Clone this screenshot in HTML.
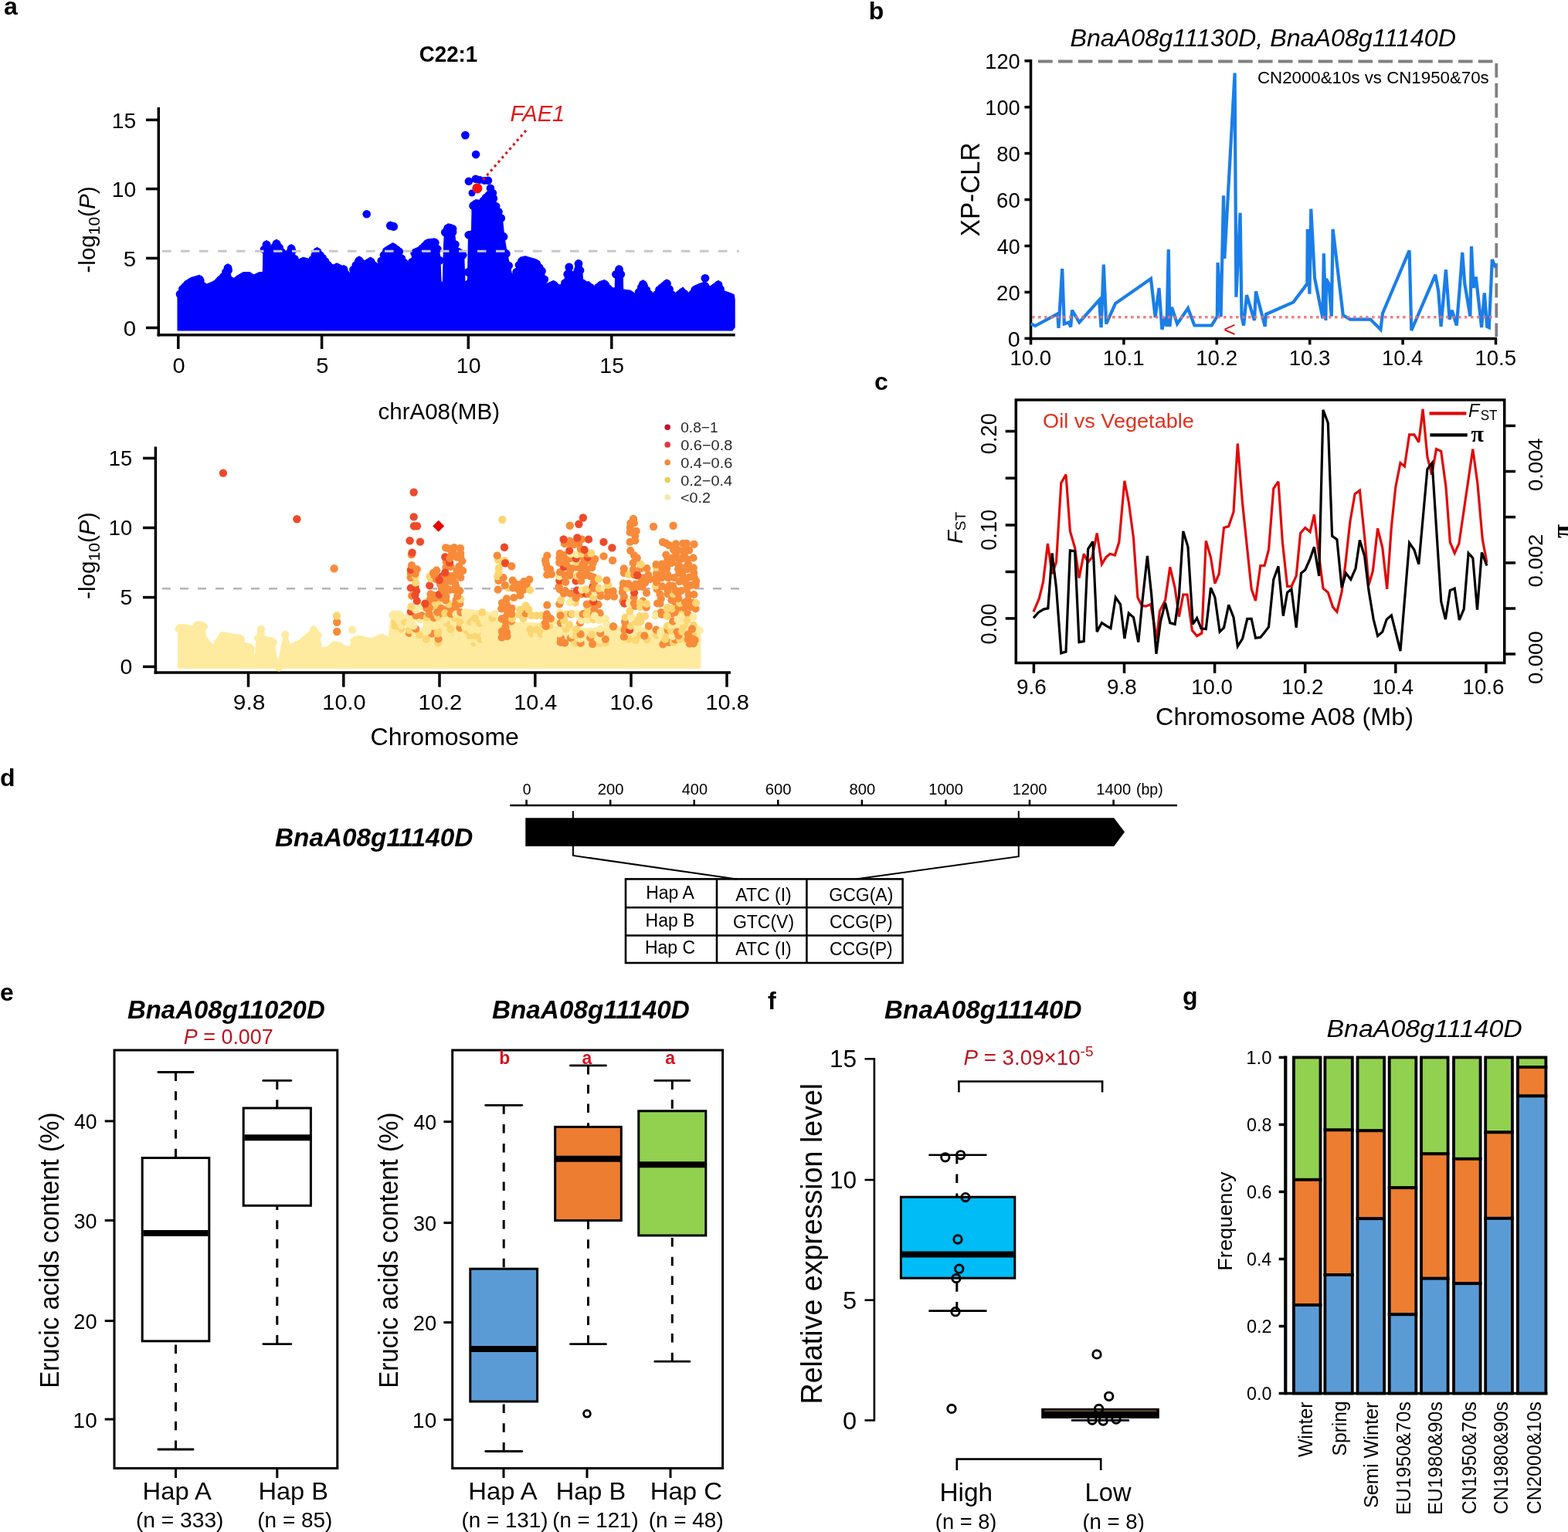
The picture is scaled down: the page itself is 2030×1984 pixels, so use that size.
<!DOCTYPE html>
<html><head><meta charset="utf-8"><title>Figure</title>
<style>
html,body{margin:0;padding:0;background:#fff;}
body{width:2030px;height:1984px;overflow:hidden;}
svg{display:block;font-family:"Liberation Sans", Arial, sans-serif;}
</style></head><body>
<svg width="2030" height="1984" viewBox="0 0 2030 1984">
<rect x="0" y="0" width="2030" height="1984" fill="#fff"/>
<text x="5.0" y="19.0" font-size="32" text-anchor="start" font-weight="bold">a</text>
<text x="1124.8" y="25.3" font-size="32" text-anchor="start" font-weight="bold">b</text>
<text x="1132.0" y="505.0" font-size="32" text-anchor="start" font-weight="bold">c</text>
<text x="0.0" y="1018.0" font-size="32" text-anchor="start" font-weight="bold">d</text>
<text x="0.0" y="1296.0" font-size="32" text-anchor="start" font-weight="bold">e</text>
<text x="994.0" y="1307.0" font-size="32" text-anchor="start" font-weight="bold">f</text>
<text x="1531.0" y="1301.0" font-size="32" text-anchor="start" font-weight="bold">g</text>
<line x1="205.3" y1="139.0" x2="205.3" y2="435.4" stroke="#000" stroke-width="3.5"/>
<line x1="203.6" y1="433.7" x2="951.7" y2="433.7" stroke="#000" stroke-width="3.5"/>
<line x1="189.0" y1="424.5" x2="205.3" y2="424.5" stroke="#000" stroke-width="3.5"/>
<text x="159.82" y="434.70" font-size="27.5" textLength="16.39" lengthAdjust="spacingAndGlyphs">0</text>
<line x1="189.0" y1="334.4" x2="205.3" y2="334.4" stroke="#000" stroke-width="3.5"/>
<text x="159.82" y="344.60" font-size="27.5" textLength="16.39" lengthAdjust="spacingAndGlyphs">5</text>
<line x1="189.0" y1="244.6" x2="205.3" y2="244.6" stroke="#000" stroke-width="3.5"/>
<text x="144.78" y="254.80" font-size="27.5" textLength="31.41" lengthAdjust="spacingAndGlyphs">10</text>
<line x1="189.0" y1="155.3" x2="205.3" y2="155.3" stroke="#000" stroke-width="3.5"/>
<text x="144.78" y="165.50" font-size="27.5" textLength="31.41" lengthAdjust="spacingAndGlyphs">15</text>
<line x1="230.8" y1="433.7" x2="230.8" y2="452.0" stroke="#000" stroke-width="3.5"/>
<text x="223.54" y="483.10" font-size="28" textLength="16.16" lengthAdjust="spacingAndGlyphs">0</text>
<line x1="416.6" y1="433.7" x2="416.6" y2="452.0" stroke="#000" stroke-width="3.5"/>
<text x="409.34" y="483.10" font-size="28" textLength="16.16" lengthAdjust="spacingAndGlyphs">5</text>
<line x1="606.3" y1="433.7" x2="606.3" y2="452.0" stroke="#000" stroke-width="3.5"/>
<text x="590.82" y="483.10" font-size="28" textLength="31.64" lengthAdjust="spacingAndGlyphs">10</text>
<line x1="791.8" y1="433.7" x2="791.8" y2="452.0" stroke="#000" stroke-width="3.5"/>
<text x="776.32" y="483.10" font-size="28" textLength="31.64" lengthAdjust="spacingAndGlyphs">15</text>
<text x="542.79" y="80.30" font-size="29" font-weight="bold" textLength="75.47" lengthAdjust="spacingAndGlyphs">C22:1</text>
<text x="0" y="0" font-size="29.5" text-anchor="middle" textLength="112" lengthAdjust="spacingAndGlyphs" transform="translate(123 297.5) rotate(-90)">-log<tspan font-size="21" dy="6">10</tspan><tspan dy="-6">(</tspan><tspan font-style="italic">P</tspan>)</text>
<polygon points="230.2,427.7 230.2,385.0 230.8,382.2 234.7,370.6 242.4,362.9 247.5,359.7 258.4,356.5 264.2,368.1 268.0,368.1 274.4,365.5 279.6,362.9 284.7,357.8 290.0,352.0 295.0,341.8 298.8,357.8 301.4,364.2 306.5,357.8 315.5,352.7 323.2,352.7 328.3,356.5 336.0,352.7 340.5,352.7 341.2,319.3 345.0,311.6 350.2,323.2 357.9,310.3 361.7,315.5 370.7,332.1 377.1,316.7 382.2,332.1 384.8,337.3 392.5,333.4 401.5,336.0 405.3,329.6 410.5,320.6 418.2,329.6 425.9,339.8 431.0,343.7 436.1,341.1 443.8,345.0 445.1,343.7 451.6,359.1 458.0,342.4 465.0,332.1 470.8,338.6 479.8,333.4 484.9,339.8 490.0,342.4 493.9,332.1 499.0,320.6 508.7,314.8 517.0,320.6 520.9,332.1 527.3,339.8 532.4,339.8 535.0,323.2 542.7,320.0 552.9,310.3 563.2,309.0 567.1,319.3 569.6,332.1 570.9,365.5 573.5,365.5 574.8,316.7 576.0,296.0 580.0,290.0 585.0,291.1 588.9,306.5 590.2,319.3 600.4,325.7 601.7,365.5 605.6,362.9 606.8,300.0 610.7,299.0 611.4,262.0 615.9,258.8 621.9,259.8 625.9,254.8 629.9,249.8 637.8,244.8 639.8,257.8 643.8,264.8 647.8,274.8 649.8,279.7 652.8,307.7 655.8,325.6 658.5,338.0 664.6,365.5 668.4,347.5 673.6,333.4 680.0,332.0 694.4,336.2 703.0,347.7 707.3,367.9 716.7,363.6 723.1,369.3 730.3,367.9 733.0,350.0 740.0,350.0 743.2,365.0 745.0,345.0 753.0,345.0 754.7,365.0 762.7,365.0 769.1,372.2 776.0,365.0 782.8,362.8 790.7,372.2 796.4,373.6 797.0,350.0 806.0,350.0 806.5,375.0 816.6,376.5 822.3,382.2 832.4,362.8 839.6,375.0 846.7,383.7 852.5,370.7 863.3,362.1 872.6,382.2 884.1,372.2 892.7,383.7 898.5,370.7 905.0,368.0 912.9,365.0 918.6,372.2 930.1,363.6 935.9,376.5 946.0,380.0 950.2,382.0 951.0,388.0 951.0,424.0 948.0,427.7" fill="#0000ff" stroke="#0000ff" stroke-width="1.5" stroke-linejoin="round"/>
<circle cx="233.0" cy="380.9" r="5.3" fill="#0000ff"/>
<circle cx="236.3" cy="374.2" r="5.3" fill="#0000ff"/>
<circle cx="239.6" cy="370.9" r="5.3" fill="#0000ff"/>
<circle cx="242.9" cy="367.8" r="5.3" fill="#0000ff"/>
<circle cx="246.2" cy="365.7" r="5.3" fill="#0000ff"/>
<circle cx="249.5" cy="364.3" r="5.3" fill="#0000ff"/>
<circle cx="252.8" cy="363.3" r="5.3" fill="#0000ff"/>
<circle cx="256.1" cy="362.4" r="5.3" fill="#0000ff"/>
<circle cx="259.4" cy="363.7" r="5.3" fill="#0000ff"/>
<circle cx="262.7" cy="370.3" r="5.3" fill="#0000ff"/>
<circle cx="266.0" cy="373.3" r="5.3" fill="#0000ff"/>
<circle cx="269.3" cy="372.8" r="5.3" fill="#0000ff"/>
<circle cx="272.6" cy="371.4" r="5.3" fill="#0000ff"/>
<circle cx="275.9" cy="369.9" r="5.3" fill="#0000ff"/>
<circle cx="279.2" cy="368.3" r="5.3" fill="#0000ff"/>
<circle cx="282.5" cy="365.2" r="5.3" fill="#0000ff"/>
<circle cx="285.8" cy="361.8" r="5.3" fill="#0000ff"/>
<circle cx="289.1" cy="358.2" r="5.3" fill="#0000ff"/>
<circle cx="292.4" cy="352.3" r="5.3" fill="#0000ff"/>
<circle cx="295.7" cy="349.9" r="5.3" fill="#0000ff"/>
<circle cx="299.0" cy="363.5" r="5.3" fill="#0000ff"/>
<circle cx="302.3" cy="368.3" r="5.3" fill="#0000ff"/>
<circle cx="305.6" cy="364.1" r="5.3" fill="#0000ff"/>
<circle cx="308.9" cy="361.6" r="5.3" fill="#0000ff"/>
<circle cx="312.2" cy="359.8" r="5.3" fill="#0000ff"/>
<circle cx="315.5" cy="357.9" r="5.3" fill="#0000ff"/>
<circle cx="318.8" cy="357.9" r="5.3" fill="#0000ff"/>
<circle cx="322.1" cy="357.9" r="5.3" fill="#0000ff"/>
<circle cx="325.4" cy="359.5" r="5.3" fill="#0000ff"/>
<circle cx="328.7" cy="361.5" r="5.3" fill="#0000ff"/>
<circle cx="332.0" cy="359.9" r="5.3" fill="#0000ff"/>
<circle cx="335.3" cy="358.2" r="5.3" fill="#0000ff"/>
<circle cx="338.6" cy="357.9" r="5.3" fill="#0000ff"/>
<circle cx="341.9" cy="323.1" r="5.3" fill="#0000ff"/>
<circle cx="345.2" cy="317.2" r="5.3" fill="#0000ff"/>
<circle cx="348.5" cy="324.6" r="5.3" fill="#0000ff"/>
<circle cx="351.8" cy="325.7" r="5.3" fill="#0000ff"/>
<circle cx="355.1" cy="320.2" r="5.3" fill="#0000ff"/>
<circle cx="358.4" cy="316.2" r="5.3" fill="#0000ff"/>
<circle cx="361.7" cy="320.7" r="5.3" fill="#0000ff"/>
<circle cx="365.0" cy="326.8" r="5.3" fill="#0000ff"/>
<circle cx="368.3" cy="332.9" r="5.3" fill="#0000ff"/>
<circle cx="371.6" cy="335.1" r="5.3" fill="#0000ff"/>
<circle cx="374.9" cy="327.2" r="5.3" fill="#0000ff"/>
<circle cx="378.2" cy="325.2" r="5.3" fill="#0000ff"/>
<circle cx="381.5" cy="335.2" r="5.3" fill="#0000ff"/>
<circle cx="384.8" cy="342.5" r="5.3" fill="#0000ff"/>
<circle cx="388.1" cy="340.8" r="5.3" fill="#0000ff"/>
<circle cx="391.4" cy="339.2" r="5.3" fill="#0000ff"/>
<circle cx="394.7" cy="339.2" r="5.3" fill="#0000ff"/>
<circle cx="398.0" cy="340.2" r="5.3" fill="#0000ff"/>
<circle cx="401.3" cy="341.1" r="5.3" fill="#0000ff"/>
<circle cx="404.6" cy="336.0" r="5.3" fill="#0000ff"/>
<circle cx="407.9" cy="330.3" r="5.3" fill="#0000ff"/>
<circle cx="411.2" cy="326.6" r="5.3" fill="#0000ff"/>
<circle cx="414.5" cy="330.5" r="5.3" fill="#0000ff"/>
<circle cx="417.8" cy="334.3" r="5.3" fill="#0000ff"/>
<circle cx="421.1" cy="338.6" r="5.3" fill="#0000ff"/>
<circle cx="424.4" cy="343.0" r="5.3" fill="#0000ff"/>
<circle cx="427.7" cy="346.4" r="5.3" fill="#0000ff"/>
<circle cx="431.0" cy="348.9" r="5.3" fill="#0000ff"/>
<circle cx="434.3" cy="347.2" r="5.3" fill="#0000ff"/>
<circle cx="437.6" cy="347.1" r="5.3" fill="#0000ff"/>
<circle cx="440.9" cy="348.7" r="5.3" fill="#0000ff"/>
<circle cx="444.2" cy="349.8" r="5.3" fill="#0000ff"/>
<circle cx="447.5" cy="354.6" r="5.3" fill="#0000ff"/>
<circle cx="450.8" cy="362.4" r="5.3" fill="#0000ff"/>
<circle cx="454.1" cy="357.8" r="5.3" fill="#0000ff"/>
<circle cx="457.4" cy="349.2" r="5.3" fill="#0000ff"/>
<circle cx="460.7" cy="343.6" r="5.3" fill="#0000ff"/>
<circle cx="464.0" cy="338.8" r="5.3" fill="#0000ff"/>
<circle cx="467.3" cy="339.9" r="5.3" fill="#0000ff"/>
<circle cx="470.6" cy="343.6" r="5.3" fill="#0000ff"/>
<circle cx="473.9" cy="342.0" r="5.3" fill="#0000ff"/>
<circle cx="477.2" cy="340.1" r="5.3" fill="#0000ff"/>
<circle cx="480.5" cy="339.5" r="5.3" fill="#0000ff"/>
<circle cx="483.8" cy="343.6" r="5.3" fill="#0000ff"/>
<circle cx="487.1" cy="346.1" r="5.3" fill="#0000ff"/>
<circle cx="490.4" cy="346.5" r="5.3" fill="#0000ff"/>
<circle cx="493.7" cy="337.8" r="5.3" fill="#0000ff"/>
<circle cx="497.0" cy="330.3" r="5.3" fill="#0000ff"/>
<circle cx="500.3" cy="325.0" r="5.3" fill="#0000ff"/>
<circle cx="503.6" cy="323.0" r="5.3" fill="#0000ff"/>
<circle cx="506.9" cy="321.1" r="5.3" fill="#0000ff"/>
<circle cx="510.2" cy="321.0" r="5.3" fill="#0000ff"/>
<circle cx="513.5" cy="323.4" r="5.3" fill="#0000ff"/>
<circle cx="516.8" cy="325.7" r="5.3" fill="#0000ff"/>
<circle cx="520.1" cy="334.9" r="5.3" fill="#0000ff"/>
<circle cx="523.4" cy="340.3" r="5.3" fill="#0000ff"/>
<circle cx="526.7" cy="344.3" r="5.3" fill="#0000ff"/>
<circle cx="530.0" cy="345.0" r="5.3" fill="#0000ff"/>
<circle cx="533.3" cy="339.3" r="5.3" fill="#0000ff"/>
<circle cx="536.6" cy="327.7" r="5.3" fill="#0000ff"/>
<circle cx="539.9" cy="326.4" r="5.3" fill="#0000ff"/>
<circle cx="543.2" cy="324.7" r="5.3" fill="#0000ff"/>
<circle cx="546.5" cy="321.6" r="5.3" fill="#0000ff"/>
<circle cx="549.8" cy="318.4" r="5.3" fill="#0000ff"/>
<circle cx="553.1" cy="315.5" r="5.3" fill="#0000ff"/>
<circle cx="556.4" cy="315.1" r="5.3" fill="#0000ff"/>
<circle cx="559.7" cy="314.6" r="5.3" fill="#0000ff"/>
<circle cx="563.0" cy="314.2" r="5.3" fill="#0000ff"/>
<circle cx="566.3" cy="322.4" r="5.3" fill="#0000ff"/>
<circle cx="569.6" cy="337.3" r="5.3" fill="#0000ff"/>
<circle cx="572.9" cy="370.7" r="5.3" fill="#0000ff"/>
<circle cx="576.2" cy="300.9" r="5.3" fill="#0000ff"/>
<circle cx="579.5" cy="295.9" r="5.3" fill="#0000ff"/>
<circle cx="582.8" cy="295.8" r="5.3" fill="#0000ff"/>
<circle cx="586.1" cy="300.6" r="5.3" fill="#0000ff"/>
<circle cx="589.4" cy="316.6" r="5.3" fill="#0000ff"/>
<circle cx="592.7" cy="326.1" r="5.3" fill="#0000ff"/>
<circle cx="596.0" cy="328.1" r="5.3" fill="#0000ff"/>
<circle cx="599.3" cy="330.2" r="5.3" fill="#0000ff"/>
<circle cx="602.6" cy="370.1" r="5.3" fill="#0000ff"/>
<circle cx="605.9" cy="352.4" r="5.3" fill="#0000ff"/>
<circle cx="609.2" cy="304.6" r="5.3" fill="#0000ff"/>
<circle cx="612.5" cy="266.4" r="5.3" fill="#0000ff"/>
<circle cx="615.8" cy="264.1" r="5.3" fill="#0000ff"/>
<circle cx="619.1" cy="264.5" r="5.3" fill="#0000ff"/>
<circle cx="622.4" cy="264.4" r="5.3" fill="#0000ff"/>
<circle cx="625.7" cy="260.3" r="5.3" fill="#0000ff"/>
<circle cx="629.0" cy="256.1" r="5.3" fill="#0000ff"/>
<circle cx="632.3" cy="253.5" r="5.3" fill="#0000ff"/>
<circle cx="635.6" cy="251.4" r="5.3" fill="#0000ff"/>
<circle cx="638.9" cy="257.1" r="5.3" fill="#0000ff"/>
<circle cx="642.2" cy="267.2" r="5.3" fill="#0000ff"/>
<circle cx="645.5" cy="274.2" r="5.3" fill="#0000ff"/>
<circle cx="648.8" cy="282.4" r="5.3" fill="#0000ff"/>
<circle cx="652.1" cy="306.4" r="5.3" fill="#0000ff"/>
<circle cx="655.4" cy="328.4" r="5.3" fill="#0000ff"/>
<circle cx="658.7" cy="344.1" r="5.3" fill="#0000ff"/>
<circle cx="662.0" cy="359.0" r="5.3" fill="#0000ff"/>
<circle cx="665.3" cy="367.4" r="5.3" fill="#0000ff"/>
<circle cx="668.6" cy="352.2" r="5.3" fill="#0000ff"/>
<circle cx="671.9" cy="343.2" r="5.3" fill="#0000ff"/>
<circle cx="675.2" cy="338.3" r="5.3" fill="#0000ff"/>
<circle cx="678.5" cy="337.5" r="5.3" fill="#0000ff"/>
<circle cx="681.8" cy="337.7" r="5.3" fill="#0000ff"/>
<circle cx="685.1" cy="338.7" r="5.3" fill="#0000ff"/>
<circle cx="688.4" cy="339.6" r="5.3" fill="#0000ff"/>
<circle cx="691.7" cy="340.6" r="5.3" fill="#0000ff"/>
<circle cx="695.0" cy="342.2" r="5.3" fill="#0000ff"/>
<circle cx="698.3" cy="346.6" r="5.3" fill="#0000ff"/>
<circle cx="701.6" cy="351.0" r="5.3" fill="#0000ff"/>
<circle cx="704.9" cy="361.8" r="5.3" fill="#0000ff"/>
<circle cx="708.2" cy="372.7" r="5.3" fill="#0000ff"/>
<circle cx="711.5" cy="371.2" r="5.3" fill="#0000ff"/>
<circle cx="714.8" cy="369.7" r="5.3" fill="#0000ff"/>
<circle cx="718.1" cy="370.0" r="5.3" fill="#0000ff"/>
<circle cx="721.4" cy="373.0" r="5.3" fill="#0000ff"/>
<circle cx="724.7" cy="374.2" r="5.3" fill="#0000ff"/>
<circle cx="728.0" cy="373.5" r="5.3" fill="#0000ff"/>
<circle cx="731.3" cy="366.5" r="5.3" fill="#0000ff"/>
<circle cx="734.6" cy="355.2" r="5.3" fill="#0000ff"/>
<circle cx="737.9" cy="355.2" r="5.3" fill="#0000ff"/>
<circle cx="741.2" cy="360.8" r="5.3" fill="#0000ff"/>
<circle cx="744.5" cy="355.8" r="5.3" fill="#0000ff"/>
<circle cx="747.8" cy="350.2" r="5.3" fill="#0000ff"/>
<circle cx="751.1" cy="350.2" r="5.3" fill="#0000ff"/>
<circle cx="754.4" cy="366.7" r="5.3" fill="#0000ff"/>
<circle cx="757.7" cy="370.2" r="5.3" fill="#0000ff"/>
<circle cx="761.0" cy="370.2" r="5.3" fill="#0000ff"/>
<circle cx="764.3" cy="372.0" r="5.3" fill="#0000ff"/>
<circle cx="767.6" cy="375.7" r="5.3" fill="#0000ff"/>
<circle cx="770.9" cy="375.5" r="5.3" fill="#0000ff"/>
<circle cx="774.2" cy="372.1" r="5.3" fill="#0000ff"/>
<circle cx="777.5" cy="369.7" r="5.3" fill="#0000ff"/>
<circle cx="780.8" cy="368.6" r="5.3" fill="#0000ff"/>
<circle cx="784.1" cy="369.5" r="5.3" fill="#0000ff"/>
<circle cx="787.4" cy="373.5" r="5.3" fill="#0000ff"/>
<circle cx="790.7" cy="377.4" r="5.3" fill="#0000ff"/>
<circle cx="794.0" cy="378.2" r="5.3" fill="#0000ff"/>
<circle cx="797.3" cy="355.2" r="5.3" fill="#0000ff"/>
<circle cx="800.6" cy="355.2" r="5.3" fill="#0000ff"/>
<circle cx="803.9" cy="355.2" r="5.3" fill="#0000ff"/>
<circle cx="807.2" cy="380.3" r="5.3" fill="#0000ff"/>
<circle cx="810.5" cy="380.8" r="5.3" fill="#0000ff"/>
<circle cx="813.8" cy="381.3" r="5.3" fill="#0000ff"/>
<circle cx="817.1" cy="382.2" r="5.3" fill="#0000ff"/>
<circle cx="820.4" cy="385.5" r="5.3" fill="#0000ff"/>
<circle cx="823.7" cy="384.7" r="5.3" fill="#0000ff"/>
<circle cx="827.0" cy="378.4" r="5.3" fill="#0000ff"/>
<circle cx="830.3" cy="372.0" r="5.3" fill="#0000ff"/>
<circle cx="833.6" cy="370.0" r="5.3" fill="#0000ff"/>
<circle cx="836.9" cy="375.6" r="5.3" fill="#0000ff"/>
<circle cx="840.2" cy="380.9" r="5.3" fill="#0000ff"/>
<circle cx="843.5" cy="385.0" r="5.3" fill="#0000ff"/>
<circle cx="846.8" cy="388.7" r="5.3" fill="#0000ff"/>
<circle cx="850.1" cy="381.3" r="5.3" fill="#0000ff"/>
<circle cx="853.4" cy="375.2" r="5.3" fill="#0000ff"/>
<circle cx="856.7" cy="372.6" r="5.3" fill="#0000ff"/>
<circle cx="860.0" cy="369.9" r="5.3" fill="#0000ff"/>
<circle cx="863.3" cy="367.3" r="5.3" fill="#0000ff"/>
<circle cx="866.6" cy="374.4" r="5.3" fill="#0000ff"/>
<circle cx="869.9" cy="381.6" r="5.3" fill="#0000ff"/>
<circle cx="873.2" cy="386.9" r="5.3" fill="#0000ff"/>
<circle cx="876.5" cy="384.0" r="5.3" fill="#0000ff"/>
<circle cx="879.8" cy="381.1" r="5.3" fill="#0000ff"/>
<circle cx="883.1" cy="378.3" r="5.3" fill="#0000ff"/>
<circle cx="886.4" cy="380.5" r="5.3" fill="#0000ff"/>
<circle cx="889.7" cy="384.9" r="5.3" fill="#0000ff"/>
<circle cx="893.0" cy="388.2" r="5.3" fill="#0000ff"/>
<circle cx="896.3" cy="380.8" r="5.3" fill="#0000ff"/>
<circle cx="899.6" cy="375.4" r="5.3" fill="#0000ff"/>
<circle cx="902.9" cy="374.1" r="5.3" fill="#0000ff"/>
<circle cx="906.2" cy="372.7" r="5.3" fill="#0000ff"/>
<circle cx="909.5" cy="371.5" r="5.3" fill="#0000ff"/>
<circle cx="912.8" cy="370.2" r="5.3" fill="#0000ff"/>
<circle cx="916.1" cy="374.2" r="5.3" fill="#0000ff"/>
<circle cx="919.4" cy="376.8" r="5.3" fill="#0000ff"/>
<circle cx="922.7" cy="374.3" r="5.3" fill="#0000ff"/>
<circle cx="926.0" cy="371.9" r="5.3" fill="#0000ff"/>
<circle cx="929.3" cy="369.4" r="5.3" fill="#0000ff"/>
<circle cx="932.6" cy="374.4" r="5.3" fill="#0000ff"/>
<circle cx="935.9" cy="381.7" r="5.3" fill="#0000ff"/>
<circle cx="939.2" cy="382.8" r="5.3" fill="#0000ff"/>
<circle cx="942.5" cy="384.0" r="5.3" fill="#0000ff"/>
<circle cx="945.8" cy="385.1" r="5.3" fill="#0000ff"/>
<circle cx="258.4" cy="361.8" r="5.4" fill="#0000ff"/>
<circle cx="295.0" cy="347.1" r="5.4" fill="#0000ff"/>
<circle cx="345.0" cy="316.9" r="5.4" fill="#0000ff"/>
<circle cx="357.9" cy="315.6" r="5.4" fill="#0000ff"/>
<circle cx="377.1" cy="322.0" r="5.4" fill="#0000ff"/>
<circle cx="410.5" cy="325.9" r="5.4" fill="#0000ff"/>
<circle cx="465.0" cy="337.4" r="5.4" fill="#0000ff"/>
<circle cx="479.8" cy="338.7" r="5.4" fill="#0000ff"/>
<circle cx="508.7" cy="320.1" r="5.4" fill="#0000ff"/>
<circle cx="542.7" cy="325.3" r="5.4" fill="#0000ff"/>
<circle cx="552.9" cy="315.6" r="5.4" fill="#0000ff"/>
<circle cx="563.2" cy="314.3" r="5.4" fill="#0000ff"/>
<circle cx="580.0" cy="295.3" r="5.4" fill="#0000ff"/>
<circle cx="586.0" cy="296.3" r="5.4" fill="#0000ff"/>
<circle cx="606.8" cy="304.3" r="5.4" fill="#0000ff"/>
<circle cx="615.9" cy="264.1" r="5.4" fill="#0000ff"/>
<circle cx="625.9" cy="260.1" r="5.4" fill="#0000ff"/>
<circle cx="637.8" cy="250.1" r="5.4" fill="#0000ff"/>
<circle cx="736.8" cy="345.9" r="5.4" fill="#0000ff"/>
<circle cx="749.0" cy="341.5" r="5.4" fill="#0000ff"/>
<circle cx="801.5" cy="348.7" r="5.4" fill="#0000ff"/>
<circle cx="832.4" cy="368.1" r="5.4" fill="#0000ff"/>
<circle cx="863.3" cy="367.4" r="5.4" fill="#0000ff"/>
<circle cx="912.9" cy="360.3" r="5.4" fill="#0000ff"/>
<circle cx="930.1" cy="368.9" r="5.4" fill="#0000ff"/>
<circle cx="782.8" cy="368.1" r="5.4" fill="#0000ff"/>
<circle cx="716.7" cy="368.9" r="5.4" fill="#0000ff"/>
<circle cx="680.0" cy="337.3" r="5.4" fill="#0000ff"/>
<circle cx="694.4" cy="341.5" r="5.4" fill="#0000ff"/>
<circle cx="445.1" cy="349.0" r="5.4" fill="#0000ff"/>
<circle cx="436.1" cy="346.4" r="5.4" fill="#0000ff"/>
<circle cx="322.0" cy="358.3" r="5.4" fill="#0000ff"/>
<circle cx="315.0" cy="358.3" r="5.4" fill="#0000ff"/>
<circle cx="242.4" cy="368.2" r="5.4" fill="#0000ff"/>
<circle cx="284.7" cy="363.1" r="5.4" fill="#0000ff"/>
<circle cx="474.7" cy="277.2" r="5.3" fill="#0000ff"/>
<circle cx="505.5" cy="292.2" r="5.6" fill="#0000ff"/>
<circle cx="509.5" cy="293.4" r="5.6" fill="#0000ff"/>
<circle cx="602.4" cy="175.1" r="5.4" fill="#0000ff"/>
<circle cx="616.1" cy="200.1" r="5.3" fill="#0000ff"/>
<circle cx="606.9" cy="234.8" r="5.3" fill="#0000ff"/>
<circle cx="615.9" cy="231.8" r="5.3" fill="#0000ff"/>
<circle cx="621.0" cy="233.0" r="5" fill="#0000ff"/>
<circle cx="627.0" cy="234.0" r="5" fill="#0000ff"/>
<circle cx="631.9" cy="233.8" r="5.3" fill="#0000ff"/>
<circle cx="634.9" cy="243.8" r="5.3" fill="#0000ff"/>
<circle cx="633.0" cy="252.0" r="5" fill="#0000ff"/>
<circle cx="611.0" cy="250.0" r="4.5" fill="#0000ff"/>
<circle cx="617.9" cy="243.8" r="6.6" fill="#f01010"/>
<line x1="210.0" y1="325.3" x2="957.0" y2="325.3" stroke="#c8c8c8" stroke-width="3" stroke-dasharray="11.5 12.5"/>
<line x1="681.0" y1="169.0" x2="625.0" y2="233.3" stroke="#e01818" stroke-width="3.2" stroke-dasharray="3.2 4.2"/>
<text x="660.52" y="156.60" font-size="29" font-style="italic" fill="#e01818" textLength="70.81" lengthAdjust="spacingAndGlyphs">FAE1</text>
<line x1="201.4" y1="578.5" x2="201.4" y2="872.7" stroke="#000" stroke-width="3.5"/>
<line x1="199.7" y1="871.0" x2="946.0" y2="871.0" stroke="#000" stroke-width="3.5"/>
<line x1="185.0" y1="863.4" x2="201.4" y2="863.4" stroke="#000" stroke-width="3.5"/>
<text x="155.46" y="873.00" font-size="27.5" textLength="15.81" lengthAdjust="spacingAndGlyphs">0</text>
<line x1="185.0" y1="773.6" x2="201.4" y2="773.6" stroke="#000" stroke-width="3.5"/>
<text x="155.46" y="783.20" font-size="27.5" textLength="15.81" lengthAdjust="spacingAndGlyphs">5</text>
<line x1="185.0" y1="683.5" x2="201.4" y2="683.5" stroke="#000" stroke-width="3.5"/>
<text x="140.85" y="693.10" font-size="27.5" textLength="30.41" lengthAdjust="spacingAndGlyphs">10</text>
<line x1="185.0" y1="593.4" x2="201.4" y2="593.4" stroke="#000" stroke-width="3.5"/>
<text x="140.85" y="603.00" font-size="27.5" textLength="30.41" lengthAdjust="spacingAndGlyphs">15</text>
<text x="0" y="0" font-size="29.5" text-anchor="middle" textLength="112.5" lengthAdjust="spacingAndGlyphs" transform="translate(123 719.7) rotate(-90)">-log<tspan font-size="21" dy="6">10</tspan><tspan dy="-6">(</tspan><tspan font-style="italic">P</tspan>)</text>
<line x1="321.5" y1="871.0" x2="321.5" y2="889.7" stroke="#000" stroke-width="3.5"/>
<text x="301.80" y="919.30" font-size="28.5" textLength="41.65" lengthAdjust="spacingAndGlyphs">9.8</text>
<line x1="444.8" y1="871.0" x2="444.8" y2="889.7" stroke="#000" stroke-width="3.5"/>
<text x="417.33" y="919.30" font-size="28.5" textLength="56.37" lengthAdjust="spacingAndGlyphs">10.0</text>
<line x1="569.0" y1="871.0" x2="569.0" y2="889.7" stroke="#000" stroke-width="3.5"/>
<text x="541.52" y="919.30" font-size="28.5" textLength="56.68" lengthAdjust="spacingAndGlyphs">10.2</text>
<line x1="692.8" y1="871.0" x2="692.8" y2="889.7" stroke="#000" stroke-width="3.5"/>
<text x="665.34" y="919.30" font-size="28.5" textLength="56.06" lengthAdjust="spacingAndGlyphs">10.4</text>
<line x1="817.0" y1="871.0" x2="817.0" y2="889.7" stroke="#000" stroke-width="3.5"/>
<text x="789.52" y="919.30" font-size="28.5" textLength="56.52" lengthAdjust="spacingAndGlyphs">10.6</text>
<line x1="941.0" y1="871.0" x2="941.0" y2="889.7" stroke="#000" stroke-width="3.5"/>
<text x="913.53" y="919.30" font-size="28.5" textLength="56.37" lengthAdjust="spacingAndGlyphs">10.8</text>
<text x="489.47" y="543.20" font-size="29" textLength="157.54" lengthAdjust="spacingAndGlyphs">chrA08(MB)</text>
<text x="479.60" y="964.80" font-size="30.5" textLength="192.31" lengthAdjust="spacingAndGlyphs">Chromosome</text>
<polygon points="231.4,864.5 231.4,809.8 239.6,809.8 245.0,811.2 251.9,811.2 254.6,805.7 264.2,807.1 265.5,824.8 272.4,833.0 276.5,837.1 281.9,827.6 287.4,819.4 312.0,823.5 316.1,833.0 325.6,835.8 328.4,849.4 331.1,852.1 333.8,822.1 337.9,815.3 342.0,824.8 354.3,827.6 357.0,852.1 361.1,860.3 365.2,835.8 369.3,820.7 374.8,835.8 387.1,830.3 393.9,824.8 402.1,818.0 406.2,811.2 411.7,818.0 415.8,839.9 424.0,838.5 432.1,831.7 440.3,833.0 445.8,837.1 454.0,838.5 458.0,826.0 465.0,824.0 480.0,828.0 495.0,822.0 504.0,826.0 508.0,792.0 518.0,792.0 521.0,822.0 530.0,818.0 546.0,818.0 552.0,800.0 560.0,795.0 600.0,795.0 606.0,790.0 640.0,795.0 644.0,806.0 700.0,808.0 720.0,812.0 760.0,815.0 800.0,812.0 850.0,815.0 880.0,808.0 906.0,812.0 906.0,864.5" fill="#feeba0" stroke="#feeba0" stroke-width="3" stroke-linejoin="round"/>
<circle cx="231.4" cy="814.3" r="4.8" fill="#feeba0"/>
<circle cx="239.6" cy="814.3" r="4.8" fill="#feeba0"/>
<circle cx="239.6" cy="814.3" r="4.8" fill="#feeba0"/>
<circle cx="245.0" cy="815.7" r="4.8" fill="#feeba0"/>
<circle cx="245.0" cy="815.7" r="4.8" fill="#feeba0"/>
<circle cx="251.9" cy="815.7" r="4.8" fill="#feeba0"/>
<circle cx="251.9" cy="815.7" r="4.8" fill="#feeba0"/>
<circle cx="254.6" cy="810.2" r="4.8" fill="#feeba0"/>
<circle cx="254.6" cy="810.2" r="4.8" fill="#feeba0"/>
<circle cx="264.2" cy="811.6" r="4.8" fill="#feeba0"/>
<circle cx="265.5" cy="829.3" r="4.8" fill="#feeba0"/>
<circle cx="272.4" cy="837.5" r="4.8" fill="#feeba0"/>
<circle cx="272.4" cy="837.5" r="4.8" fill="#feeba0"/>
<circle cx="276.5" cy="841.6" r="4.8" fill="#feeba0"/>
<circle cx="276.5" cy="841.6" r="4.8" fill="#feeba0"/>
<circle cx="281.9" cy="832.1" r="4.8" fill="#feeba0"/>
<circle cx="281.9" cy="832.1" r="4.8" fill="#feeba0"/>
<circle cx="287.4" cy="823.9" r="4.8" fill="#feeba0"/>
<circle cx="287.4" cy="823.9" r="4.8" fill="#feeba0"/>
<circle cx="293.5" cy="824.9" r="4.8" fill="#feeba0"/>
<circle cx="299.7" cy="826.0" r="4.8" fill="#feeba0"/>
<circle cx="305.9" cy="827.0" r="4.8" fill="#feeba0"/>
<circle cx="312.0" cy="828.0" r="4.8" fill="#feeba0"/>
<circle cx="312.0" cy="828.0" r="4.8" fill="#feeba0"/>
<circle cx="316.1" cy="837.5" r="4.8" fill="#feeba0"/>
<circle cx="316.1" cy="837.5" r="4.8" fill="#feeba0"/>
<circle cx="325.6" cy="840.3" r="4.8" fill="#feeba0"/>
<circle cx="328.4" cy="853.9" r="4.8" fill="#feeba0"/>
<circle cx="331.1" cy="856.6" r="4.8" fill="#feeba0"/>
<circle cx="333.8" cy="826.6" r="4.8" fill="#feeba0"/>
<circle cx="337.9" cy="819.8" r="4.8" fill="#feeba0"/>
<circle cx="337.9" cy="819.8" r="4.8" fill="#feeba0"/>
<circle cx="342.0" cy="829.3" r="4.8" fill="#feeba0"/>
<circle cx="342.0" cy="829.3" r="4.8" fill="#feeba0"/>
<circle cx="348.1" cy="830.7" r="4.8" fill="#feeba0"/>
<circle cx="354.3" cy="832.1" r="4.8" fill="#feeba0"/>
<circle cx="357.0" cy="856.6" r="4.8" fill="#feeba0"/>
<circle cx="361.1" cy="864.8" r="4.8" fill="#feeba0"/>
<circle cx="374.8" cy="840.3" r="4.8" fill="#feeba0"/>
<circle cx="381.0" cy="837.5" r="4.8" fill="#feeba0"/>
<circle cx="387.1" cy="834.8" r="4.8" fill="#feeba0"/>
<circle cx="387.1" cy="834.8" r="4.8" fill="#feeba0"/>
<circle cx="393.9" cy="829.3" r="4.8" fill="#feeba0"/>
<circle cx="393.9" cy="829.3" r="4.8" fill="#feeba0"/>
<circle cx="402.1" cy="822.5" r="4.8" fill="#feeba0"/>
<circle cx="402.1" cy="822.5" r="4.8" fill="#feeba0"/>
<circle cx="406.2" cy="815.7" r="4.8" fill="#feeba0"/>
<circle cx="406.2" cy="815.7" r="4.8" fill="#feeba0"/>
<circle cx="411.7" cy="822.5" r="4.8" fill="#feeba0"/>
<circle cx="415.8" cy="844.4" r="4.8" fill="#feeba0"/>
<circle cx="424.0" cy="843.0" r="4.8" fill="#feeba0"/>
<circle cx="424.0" cy="843.0" r="4.8" fill="#feeba0"/>
<circle cx="432.1" cy="836.2" r="4.8" fill="#feeba0"/>
<circle cx="432.1" cy="836.2" r="4.8" fill="#feeba0"/>
<circle cx="440.3" cy="837.5" r="4.8" fill="#feeba0"/>
<circle cx="440.3" cy="837.5" r="4.8" fill="#feeba0"/>
<circle cx="445.8" cy="841.6" r="4.8" fill="#feeba0"/>
<circle cx="445.8" cy="841.6" r="4.8" fill="#feeba0"/>
<circle cx="454.0" cy="843.0" r="4.8" fill="#feeba0"/>
<circle cx="458.0" cy="830.5" r="4.8" fill="#feeba0"/>
<circle cx="465.0" cy="828.5" r="4.8" fill="#feeba0"/>
<circle cx="465.0" cy="828.5" r="4.8" fill="#feeba0"/>
<circle cx="470.0" cy="829.8" r="4.8" fill="#feeba0"/>
<circle cx="475.0" cy="831.2" r="4.8" fill="#feeba0"/>
<circle cx="480.0" cy="832.5" r="4.8" fill="#feeba0"/>
<circle cx="480.0" cy="832.5" r="4.8" fill="#feeba0"/>
<circle cx="485.0" cy="830.5" r="4.8" fill="#feeba0"/>
<circle cx="490.0" cy="828.5" r="4.8" fill="#feeba0"/>
<circle cx="495.0" cy="826.5" r="4.8" fill="#feeba0"/>
<circle cx="495.0" cy="826.5" r="4.8" fill="#feeba0"/>
<circle cx="504.0" cy="830.5" r="4.8" fill="#feeba0"/>
<circle cx="508.0" cy="796.5" r="4.8" fill="#feeba0"/>
<circle cx="513.0" cy="796.5" r="4.8" fill="#feeba0"/>
<circle cx="518.0" cy="796.5" r="4.8" fill="#feeba0"/>
<circle cx="521.0" cy="826.5" r="4.8" fill="#feeba0"/>
<circle cx="530.0" cy="822.5" r="4.8" fill="#feeba0"/>
<circle cx="530.0" cy="822.5" r="4.8" fill="#feeba0"/>
<circle cx="535.3" cy="822.5" r="4.8" fill="#feeba0"/>
<circle cx="540.7" cy="822.5" r="4.8" fill="#feeba0"/>
<circle cx="546.0" cy="822.5" r="4.8" fill="#feeba0"/>
<circle cx="552.0" cy="804.5" r="4.8" fill="#feeba0"/>
<circle cx="560.0" cy="799.5" r="4.8" fill="#feeba0"/>
<circle cx="560.0" cy="799.5" r="4.8" fill="#feeba0"/>
<circle cx="565.0" cy="799.5" r="4.8" fill="#feeba0"/>
<circle cx="570.0" cy="799.5" r="4.8" fill="#feeba0"/>
<circle cx="575.0" cy="799.5" r="4.8" fill="#feeba0"/>
<circle cx="580.0" cy="799.5" r="4.8" fill="#feeba0"/>
<circle cx="585.0" cy="799.5" r="4.8" fill="#feeba0"/>
<circle cx="590.0" cy="799.5" r="4.8" fill="#feeba0"/>
<circle cx="595.0" cy="799.5" r="4.8" fill="#feeba0"/>
<circle cx="600.0" cy="799.5" r="4.8" fill="#feeba0"/>
<circle cx="600.0" cy="799.5" r="4.8" fill="#feeba0"/>
<circle cx="606.0" cy="794.5" r="4.8" fill="#feeba0"/>
<circle cx="606.0" cy="794.5" r="4.8" fill="#feeba0"/>
<circle cx="611.7" cy="795.3" r="4.8" fill="#feeba0"/>
<circle cx="617.3" cy="796.2" r="4.8" fill="#feeba0"/>
<circle cx="623.0" cy="797.0" r="4.8" fill="#feeba0"/>
<circle cx="628.7" cy="797.8" r="4.8" fill="#feeba0"/>
<circle cx="634.3" cy="798.7" r="4.8" fill="#feeba0"/>
<circle cx="640.0" cy="799.5" r="4.8" fill="#feeba0"/>
<circle cx="640.0" cy="799.5" r="4.8" fill="#feeba0"/>
<circle cx="644.0" cy="810.5" r="4.8" fill="#feeba0"/>
<circle cx="644.0" cy="810.5" r="4.8" fill="#feeba0"/>
<circle cx="649.1" cy="810.7" r="4.8" fill="#feeba0"/>
<circle cx="654.2" cy="810.9" r="4.8" fill="#feeba0"/>
<circle cx="659.3" cy="811.0" r="4.8" fill="#feeba0"/>
<circle cx="664.4" cy="811.2" r="4.8" fill="#feeba0"/>
<circle cx="669.5" cy="811.4" r="4.8" fill="#feeba0"/>
<circle cx="674.5" cy="811.6" r="4.8" fill="#feeba0"/>
<circle cx="679.6" cy="811.8" r="4.8" fill="#feeba0"/>
<circle cx="684.7" cy="812.0" r="4.8" fill="#feeba0"/>
<circle cx="689.8" cy="812.1" r="4.8" fill="#feeba0"/>
<circle cx="694.9" cy="812.3" r="4.8" fill="#feeba0"/>
<circle cx="700.0" cy="812.5" r="4.8" fill="#feeba0"/>
<circle cx="700.0" cy="812.5" r="4.8" fill="#feeba0"/>
<circle cx="705.0" cy="813.5" r="4.8" fill="#feeba0"/>
<circle cx="710.0" cy="814.5" r="4.8" fill="#feeba0"/>
<circle cx="715.0" cy="815.5" r="4.8" fill="#feeba0"/>
<circle cx="720.0" cy="816.5" r="4.8" fill="#feeba0"/>
<circle cx="720.0" cy="816.5" r="4.8" fill="#feeba0"/>
<circle cx="725.0" cy="816.9" r="4.8" fill="#feeba0"/>
<circle cx="730.0" cy="817.2" r="4.8" fill="#feeba0"/>
<circle cx="735.0" cy="817.6" r="4.8" fill="#feeba0"/>
<circle cx="740.0" cy="818.0" r="4.8" fill="#feeba0"/>
<circle cx="745.0" cy="818.4" r="4.8" fill="#feeba0"/>
<circle cx="750.0" cy="818.8" r="4.8" fill="#feeba0"/>
<circle cx="755.0" cy="819.1" r="4.8" fill="#feeba0"/>
<circle cx="760.0" cy="819.5" r="4.8" fill="#feeba0"/>
<circle cx="760.0" cy="819.5" r="4.8" fill="#feeba0"/>
<circle cx="765.0" cy="819.1" r="4.8" fill="#feeba0"/>
<circle cx="770.0" cy="818.8" r="4.8" fill="#feeba0"/>
<circle cx="775.0" cy="818.4" r="4.8" fill="#feeba0"/>
<circle cx="780.0" cy="818.0" r="4.8" fill="#feeba0"/>
<circle cx="785.0" cy="817.6" r="4.8" fill="#feeba0"/>
<circle cx="790.0" cy="817.2" r="4.8" fill="#feeba0"/>
<circle cx="795.0" cy="816.9" r="4.8" fill="#feeba0"/>
<circle cx="800.0" cy="816.5" r="4.8" fill="#feeba0"/>
<circle cx="800.0" cy="816.5" r="4.8" fill="#feeba0"/>
<circle cx="805.0" cy="816.8" r="4.8" fill="#feeba0"/>
<circle cx="810.0" cy="817.1" r="4.8" fill="#feeba0"/>
<circle cx="815.0" cy="817.4" r="4.8" fill="#feeba0"/>
<circle cx="820.0" cy="817.7" r="4.8" fill="#feeba0"/>
<circle cx="825.0" cy="818.0" r="4.8" fill="#feeba0"/>
<circle cx="830.0" cy="818.3" r="4.8" fill="#feeba0"/>
<circle cx="835.0" cy="818.6" r="4.8" fill="#feeba0"/>
<circle cx="840.0" cy="818.9" r="4.8" fill="#feeba0"/>
<circle cx="845.0" cy="819.2" r="4.8" fill="#feeba0"/>
<circle cx="850.0" cy="819.5" r="4.8" fill="#feeba0"/>
<circle cx="850.0" cy="819.5" r="4.8" fill="#feeba0"/>
<circle cx="855.0" cy="818.3" r="4.8" fill="#feeba0"/>
<circle cx="860.0" cy="817.2" r="4.8" fill="#feeba0"/>
<circle cx="865.0" cy="816.0" r="4.8" fill="#feeba0"/>
<circle cx="870.0" cy="814.8" r="4.8" fill="#feeba0"/>
<circle cx="875.0" cy="813.7" r="4.8" fill="#feeba0"/>
<circle cx="880.0" cy="812.5" r="4.8" fill="#feeba0"/>
<circle cx="880.0" cy="812.5" r="4.8" fill="#feeba0"/>
<circle cx="885.2" cy="813.3" r="4.8" fill="#feeba0"/>
<circle cx="890.4" cy="814.1" r="4.8" fill="#feeba0"/>
<circle cx="895.6" cy="814.9" r="4.8" fill="#feeba0"/>
<circle cx="900.8" cy="815.7" r="4.8" fill="#feeba0"/>
<circle cx="906.0" cy="816.5" r="4.8" fill="#feeba0"/>
<line x1="210.0" y1="762.3" x2="957.0" y2="762.3" stroke="#b4b4bc" stroke-width="2.4" stroke-dasharray="11 12"/>
<circle cx="519.2" cy="831.8" r="5.1" fill="#feeba0"/>
<circle cx="516.9" cy="827.3" r="5.1" fill="#feeba0"/>
<circle cx="513.6" cy="819.9" r="5.1" fill="#feeba0"/>
<circle cx="519.5" cy="814.4" r="5.1" fill="#fcd672"/>
<circle cx="511.6" cy="810.6" r="5.1" fill="#fcd672"/>
<circle cx="519.6" cy="809.6" r="5.1" fill="#feeba0"/>
<circle cx="511.5" cy="805.8" r="5.1" fill="#fcd672"/>
<circle cx="517.0" cy="804.3" r="5.1" fill="#feeba0"/>
<circle cx="524.0" cy="805.5" r="5.1" fill="#fcd672"/>
<circle cx="512.0" cy="799.0" r="5.1" fill="#feeba0"/>
<circle cx="519.1" cy="798.6" r="5.1" fill="#feeba0"/>
<circle cx="531.0" cy="827.5" r="5.1" fill="#feeba0"/>
<circle cx="529.8" cy="819.8" r="5.1" fill="#f78b3a"/>
<circle cx="537.4" cy="820.0" r="5.1" fill="#feeba0"/>
<circle cx="542.9" cy="822.1" r="5.1" fill="#fcd672"/>
<circle cx="529.5" cy="816.0" r="5.1" fill="#fcd672"/>
<circle cx="538.3" cy="814.4" r="5.1" fill="#f78b3a"/>
<circle cx="529.5" cy="807.9" r="5.1" fill="#feeba0"/>
<circle cx="535.5" cy="810.5" r="5.1" fill="#feeba0"/>
<circle cx="532.3" cy="803.6" r="5.1" fill="#feeba0"/>
<circle cx="543.4" cy="802.3" r="5.1" fill="#feeba0"/>
<circle cx="529.4" cy="797.8" r="5.1" fill="#feeba0"/>
<circle cx="538.5" cy="797.3" r="5.1" fill="#f78b3a"/>
<circle cx="546.1" cy="797.2" r="5.1" fill="#f78b3a"/>
<circle cx="531.8" cy="792.1" r="5.1" fill="#ee4a2a"/>
<circle cx="538.1" cy="789.7" r="5.1" fill="#feeba0"/>
<circle cx="532.3" cy="785.6" r="5.1" fill="#fcd672"/>
<circle cx="544.8" cy="785.2" r="5.1" fill="#feeba0"/>
<circle cx="539.8" cy="778.4" r="5.1" fill="#ee4a2a"/>
<circle cx="533.1" cy="771.6" r="5.1" fill="#f78b3a"/>
<circle cx="537.4" cy="770.8" r="5.1" fill="#ee4a2a"/>
<circle cx="539.1" cy="765.3" r="5.1" fill="#ee4a2a"/>
<circle cx="531.7" cy="761.5" r="5.1" fill="#ee4a2a"/>
<circle cx="537.6" cy="759.5" r="5.1" fill="#ee4a2a"/>
<circle cx="538.0" cy="754.7" r="5.1" fill="#fcd672"/>
<circle cx="531.6" cy="748.1" r="5.1" fill="#f78b3a"/>
<circle cx="537.8" cy="746.5" r="5.1" fill="#fcd672"/>
<circle cx="531.8" cy="742.2" r="5.1" fill="#f78b3a"/>
<circle cx="537.5" cy="742.9" r="5.1" fill="#f78b3a"/>
<circle cx="531.8" cy="738.0" r="5.1" fill="#ee4a2a"/>
<circle cx="539.8" cy="737.3" r="5.1" fill="#f78b3a"/>
<circle cx="533.0" cy="732.0" r="5.1" fill="#f78b3a"/>
<circle cx="532.8" cy="718.4" r="5.1" fill="#f78b3a"/>
<circle cx="552.8" cy="833.1" r="5.1" fill="#feeba0"/>
<circle cx="567.4" cy="832.6" r="5.1" fill="#fcd672"/>
<circle cx="551.7" cy="827.7" r="5.1" fill="#fcd672"/>
<circle cx="567.6" cy="827.5" r="5.1" fill="#f78b3a"/>
<circle cx="559.2" cy="820.6" r="5.1" fill="#f78b3a"/>
<circle cx="566.8" cy="820.3" r="5.1" fill="#fcd672"/>
<circle cx="553.5" cy="816.8" r="5.1" fill="#feeba0"/>
<circle cx="567.1" cy="817.1" r="5.1" fill="#fcd672"/>
<circle cx="566.0" cy="810.0" r="5.1" fill="#feeba0"/>
<circle cx="559.6" cy="804.5" r="5.1" fill="#feeba0"/>
<circle cx="552.8" cy="799.6" r="5.1" fill="#fcd672"/>
<circle cx="561.6" cy="800.2" r="5.1" fill="#f78b3a"/>
<circle cx="566.7" cy="798.5" r="5.1" fill="#fcd672"/>
<circle cx="559.5" cy="792.5" r="5.1" fill="#f78b3a"/>
<circle cx="564.2" cy="793.0" r="5.1" fill="#feeba0"/>
<circle cx="552.3" cy="787.6" r="5.1" fill="#f78b3a"/>
<circle cx="565.3" cy="786.2" r="5.1" fill="#fcd672"/>
<circle cx="551.7" cy="779.3" r="5.1" fill="#feeba0"/>
<circle cx="559.6" cy="781.5" r="5.1" fill="#feeba0"/>
<circle cx="566.7" cy="780.2" r="5.1" fill="#fcd672"/>
<circle cx="555.6" cy="795.1" r="5.1" fill="#f78b3a"/>
<circle cx="566.0" cy="793.0" r="5.1" fill="#f78b3a"/>
<circle cx="573.1" cy="795.1" r="5.1" fill="#f78b3a"/>
<circle cx="556.2" cy="785.9" r="5.1" fill="#f78b3a"/>
<circle cx="571.3" cy="787.9" r="5.1" fill="#f78b3a"/>
<circle cx="557.0" cy="782.5" r="5.1" fill="#f78b3a"/>
<circle cx="563.7" cy="781.1" r="5.1" fill="#fcd672"/>
<circle cx="556.9" cy="776.0" r="5.1" fill="#f78b3a"/>
<circle cx="563.5" cy="774.4" r="5.1" fill="#f78b3a"/>
<circle cx="571.3" cy="774.0" r="5.1" fill="#f78b3a"/>
<circle cx="557.5" cy="769.4" r="5.1" fill="#f78b3a"/>
<circle cx="562.9" cy="771.2" r="5.1" fill="#f78b3a"/>
<circle cx="568.8" cy="769.9" r="5.1" fill="#ee4a2a"/>
<circle cx="571.8" cy="762.0" r="5.1" fill="#f78b3a"/>
<circle cx="556.2" cy="758.3" r="5.1" fill="#ee4a2a"/>
<circle cx="569.9" cy="756.6" r="5.1" fill="#f78b3a"/>
<circle cx="558.0" cy="749.3" r="5.1" fill="#fcd672"/>
<circle cx="564.6" cy="750.1" r="5.1" fill="#f78b3a"/>
<circle cx="571.5" cy="750.2" r="5.1" fill="#ee4a2a"/>
<circle cx="556.4" cy="746.7" r="5.1" fill="#fcd672"/>
<circle cx="562.4" cy="745.1" r="5.1" fill="#f78b3a"/>
<circle cx="572.0" cy="746.7" r="5.1" fill="#ee4a2a"/>
<circle cx="565.1" cy="738.7" r="5.1" fill="#f78b3a"/>
<circle cx="577.9" cy="789.5" r="5.1" fill="#f78b3a"/>
<circle cx="583.6" cy="789.2" r="5.1" fill="#f78b3a"/>
<circle cx="590.0" cy="789.4" r="5.1" fill="#f78b3a"/>
<circle cx="581.4" cy="782.4" r="5.1" fill="#fcd672"/>
<circle cx="589.7" cy="782.9" r="5.1" fill="#f78b3a"/>
<circle cx="595.2" cy="781.9" r="5.1" fill="#f78b3a"/>
<circle cx="576.9" cy="777.4" r="5.1" fill="#f78b3a"/>
<circle cx="590.5" cy="777.4" r="5.1" fill="#f78b3a"/>
<circle cx="596.3" cy="776.2" r="5.1" fill="#fcd672"/>
<circle cx="577.5" cy="772.4" r="5.1" fill="#f78b3a"/>
<circle cx="592.2" cy="772.0" r="5.1" fill="#f78b3a"/>
<circle cx="575.1" cy="765.7" r="5.1" fill="#f78b3a"/>
<circle cx="582.2" cy="763.8" r="5.1" fill="#f78b3a"/>
<circle cx="587.9" cy="763.6" r="5.1" fill="#f78b3a"/>
<circle cx="595.3" cy="765.2" r="5.1" fill="#f78b3a"/>
<circle cx="576.9" cy="760.5" r="5.1" fill="#f78b3a"/>
<circle cx="590.3" cy="759.3" r="5.1" fill="#f78b3a"/>
<circle cx="577.8" cy="752.7" r="5.1" fill="#f78b3a"/>
<circle cx="582.8" cy="752.6" r="5.1" fill="#f78b3a"/>
<circle cx="589.2" cy="755.0" r="5.1" fill="#f78b3a"/>
<circle cx="576.5" cy="746.1" r="5.1" fill="#f78b3a"/>
<circle cx="584.1" cy="746.0" r="5.1" fill="#f78b3a"/>
<circle cx="588.4" cy="745.7" r="5.1" fill="#f78b3a"/>
<circle cx="596.4" cy="747.8" r="5.1" fill="#f78b3a"/>
<circle cx="591.7" cy="739.2" r="5.1" fill="#f78b3a"/>
<circle cx="599.2" cy="739.1" r="5.1" fill="#f78b3a"/>
<circle cx="577.5" cy="734.7" r="5.1" fill="#f78b3a"/>
<circle cx="583.5" cy="733.9" r="5.1" fill="#f78b3a"/>
<circle cx="594.2" cy="733.5" r="5.1" fill="#f78b3a"/>
<circle cx="577.7" cy="727.5" r="5.1" fill="#f78b3a"/>
<circle cx="582.2" cy="728.7" r="5.1" fill="#ee4a2a"/>
<circle cx="598.4" cy="726.6" r="5.1" fill="#f78b3a"/>
<circle cx="576.2" cy="721.4" r="5.1" fill="#ee4a2a"/>
<circle cx="582.4" cy="723.0" r="5.1" fill="#f78b3a"/>
<circle cx="591.3" cy="721.6" r="5.1" fill="#f78b3a"/>
<circle cx="596.2" cy="721.2" r="5.1" fill="#f78b3a"/>
<circle cx="584.8" cy="718.2" r="5.1" fill="#f78b3a"/>
<circle cx="596.2" cy="716.5" r="5.1" fill="#f78b3a"/>
<circle cx="577.0" cy="709.3" r="5.1" fill="#f78b3a"/>
<circle cx="584.1" cy="711.1" r="5.1" fill="#f78b3a"/>
<circle cx="596.1" cy="710.1" r="5.1" fill="#f78b3a"/>
<circle cx="577.0" cy="815.1" r="5.1" fill="#feeba0"/>
<circle cx="583.4" cy="814.9" r="5.1" fill="#fcd672"/>
<circle cx="595.5" cy="813.2" r="5.1" fill="#f78b3a"/>
<circle cx="577.8" cy="806.6" r="5.1" fill="#fcd672"/>
<circle cx="595.8" cy="806.3" r="5.1" fill="#fcd672"/>
<circle cx="575.6" cy="802.3" r="5.1" fill="#feeba0"/>
<circle cx="589.1" cy="800.4" r="5.1" fill="#fcd672"/>
<circle cx="576.1" cy="794.3" r="5.1" fill="#fcd672"/>
<circle cx="583.6" cy="795.2" r="5.1" fill="#f78b3a"/>
<circle cx="590.5" cy="795.5" r="5.1" fill="#feeba0"/>
<circle cx="596.4" cy="793.1" r="5.1" fill="#f78b3a"/>
<circle cx="586.7" cy="715.4" r="5.1" fill="#f78b3a"/>
<circle cx="581.3" cy="710.6" r="5.1" fill="#f78b3a"/>
<circle cx="588.0" cy="709.2" r="5.1" fill="#f78b3a"/>
<circle cx="602.2" cy="834.1" r="5.1" fill="#feeba0"/>
<circle cx="613.7" cy="832.3" r="5.1" fill="#fcd672"/>
<circle cx="620.2" cy="832.4" r="5.1" fill="#feeba0"/>
<circle cx="602.3" cy="827.4" r="5.1" fill="#feeba0"/>
<circle cx="609.1" cy="827.8" r="5.1" fill="#feeba0"/>
<circle cx="615.4" cy="827.2" r="5.1" fill="#feeba0"/>
<circle cx="622.3" cy="827.9" r="5.1" fill="#fcd672"/>
<circle cx="627.9" cy="827.8" r="5.1" fill="#feeba0"/>
<circle cx="634.9" cy="828.7" r="5.1" fill="#feeba0"/>
<circle cx="601.5" cy="823.3" r="5.1" fill="#feeba0"/>
<circle cx="608.6" cy="822.9" r="5.1" fill="#fcd672"/>
<circle cx="615.4" cy="823.2" r="5.1" fill="#fcd672"/>
<circle cx="618.8" cy="821.5" r="5.1" fill="#fcd672"/>
<circle cx="627.1" cy="822.9" r="5.1" fill="#feeba0"/>
<circle cx="632.9" cy="821.3" r="5.1" fill="#feeba0"/>
<circle cx="603.1" cy="815.8" r="5.1" fill="#fcd672"/>
<circle cx="610.1" cy="816.3" r="5.1" fill="#feeba0"/>
<circle cx="618.9" cy="815.6" r="5.1" fill="#feeba0"/>
<circle cx="627.0" cy="816.1" r="5.1" fill="#feeba0"/>
<circle cx="635.3" cy="816.6" r="5.1" fill="#feeba0"/>
<circle cx="602.1" cy="811.8" r="5.1" fill="#feeba0"/>
<circle cx="614.4" cy="812.5" r="5.1" fill="#feeba0"/>
<circle cx="618.9" cy="809.8" r="5.1" fill="#feeba0"/>
<circle cx="626.1" cy="811.6" r="5.1" fill="#feeba0"/>
<circle cx="634.1" cy="810.2" r="5.1" fill="#feeba0"/>
<circle cx="609.0" cy="805.2" r="5.1" fill="#fcd672"/>
<circle cx="614.4" cy="806.4" r="5.1" fill="#feeba0"/>
<circle cx="621.0" cy="807.1" r="5.1" fill="#fcd672"/>
<circle cx="626.7" cy="804.6" r="5.1" fill="#feeba0"/>
<circle cx="636.6" cy="804.8" r="5.1" fill="#feeba0"/>
<circle cx="602.8" cy="798.8" r="5.1" fill="#feeba0"/>
<circle cx="614.9" cy="800.8" r="5.1" fill="#fcd672"/>
<circle cx="624.0" cy="798.9" r="5.1" fill="#feeba0"/>
<circle cx="637.6" cy="800.4" r="5.1" fill="#fcd672"/>
<circle cx="601.9" cy="793.0" r="5.1" fill="#feeba0"/>
<circle cx="624.3" cy="793.2" r="5.1" fill="#fcd672"/>
<circle cx="640.3" cy="795.1" r="5.1" fill="#feeba0"/>
<circle cx="644.6" cy="763.6" r="5.1" fill="#f78b3a"/>
<circle cx="658.3" cy="761.5" r="5.1" fill="#fcd672"/>
<circle cx="664.2" cy="761.5" r="5.1" fill="#f78b3a"/>
<circle cx="671.5" cy="763.6" r="5.1" fill="#f78b3a"/>
<circle cx="677.7" cy="763.8" r="5.1" fill="#f78b3a"/>
<circle cx="686.1" cy="764.2" r="5.1" fill="#fcd672"/>
<circle cx="653.7" cy="757.9" r="5.1" fill="#f78b3a"/>
<circle cx="666.7" cy="756.1" r="5.1" fill="#f78b3a"/>
<circle cx="672.8" cy="757.0" r="5.1" fill="#f78b3a"/>
<circle cx="681.9" cy="756.1" r="5.1" fill="#f78b3a"/>
<circle cx="645.4" cy="751.9" r="5.1" fill="#f78b3a"/>
<circle cx="663.6" cy="751.7" r="5.1" fill="#f78b3a"/>
<circle cx="678.3" cy="753.1" r="5.1" fill="#f78b3a"/>
<circle cx="685.4" cy="750.6" r="5.1" fill="#f78b3a"/>
<circle cx="649.6" cy="825.7" r="5.1" fill="#f78b3a"/>
<circle cx="656.5" cy="824.1" r="5.1" fill="#f78b3a"/>
<circle cx="649.8" cy="817.7" r="5.1" fill="#f78b3a"/>
<circle cx="656.3" cy="819.0" r="5.1" fill="#f78b3a"/>
<circle cx="654.4" cy="812.1" r="5.1" fill="#f78b3a"/>
<circle cx="654.8" cy="804.8" r="5.1" fill="#f78b3a"/>
<circle cx="661.9" cy="804.7" r="5.1" fill="#f78b3a"/>
<circle cx="649.6" cy="801.4" r="5.1" fill="#f78b3a"/>
<circle cx="654.3" cy="799.9" r="5.1" fill="#f78b3a"/>
<circle cx="663.1" cy="801.3" r="5.1" fill="#fcd672"/>
<circle cx="657.2" cy="794.3" r="5.1" fill="#f78b3a"/>
<circle cx="662.4" cy="795.2" r="5.1" fill="#f78b3a"/>
<circle cx="649.2" cy="788.4" r="5.1" fill="#f78b3a"/>
<circle cx="654.4" cy="787.7" r="5.1" fill="#f78b3a"/>
<circle cx="662.6" cy="787.8" r="5.1" fill="#f78b3a"/>
<circle cx="650.0" cy="780.8" r="5.1" fill="#f78b3a"/>
<circle cx="656.1" cy="783.2" r="5.1" fill="#f78b3a"/>
<circle cx="655.9" cy="775.3" r="5.1" fill="#f78b3a"/>
<circle cx="665.2" cy="774.0" r="5.1" fill="#f78b3a"/>
<circle cx="644.1" cy="746.5" r="5.1" fill="#fcd672"/>
<circle cx="651.6" cy="748.2" r="5.1" fill="#f78b3a"/>
<circle cx="645.7" cy="742.3" r="5.1" fill="#fcd672"/>
<circle cx="645.7" cy="736.2" r="5.1" fill="#fcd672"/>
<circle cx="650.5" cy="729.2" r="5.1" fill="#fcd672"/>
<circle cx="644.7" cy="724.9" r="5.1" fill="#fcd672"/>
<circle cx="653.5" cy="726.2" r="5.1" fill="#fcd672"/>
<circle cx="643.7" cy="719.5" r="5.1" fill="#f78b3a"/>
<circle cx="677.6" cy="800.9" r="5.1" fill="#fcd672"/>
<circle cx="672.4" cy="796.2" r="5.1" fill="#fcd672"/>
<circle cx="680.6" cy="794.4" r="5.1" fill="#f78b3a"/>
<circle cx="673.3" cy="789.5" r="5.1" fill="#fcd672"/>
<circle cx="684.4" cy="789.3" r="5.1" fill="#fcd672"/>
<circle cx="680.6" cy="784.3" r="5.1" fill="#fcd672"/>
<circle cx="673.5" cy="771.2" r="5.1" fill="#f78b3a"/>
<circle cx="687.3" cy="833.0" r="5.1" fill="#feeba0"/>
<circle cx="702.6" cy="832.5" r="5.1" fill="#feeba0"/>
<circle cx="708.8" cy="833.1" r="5.1" fill="#feeba0"/>
<circle cx="717.3" cy="832.6" r="5.1" fill="#feeba0"/>
<circle cx="686.3" cy="827.7" r="5.1" fill="#feeba0"/>
<circle cx="711.3" cy="828.2" r="5.1" fill="#feeba0"/>
<circle cx="718.3" cy="827.3" r="5.1" fill="#feeba0"/>
<circle cx="688.5" cy="820.4" r="5.1" fill="#fcd672"/>
<circle cx="695.1" cy="822.1" r="5.1" fill="#feeba0"/>
<circle cx="700.6" cy="820.9" r="5.1" fill="#fcd672"/>
<circle cx="706.7" cy="822.1" r="5.1" fill="#feeba0"/>
<circle cx="713.7" cy="820.5" r="5.1" fill="#feeba0"/>
<circle cx="686.3" cy="815.2" r="5.1" fill="#fcd672"/>
<circle cx="694.9" cy="815.3" r="5.1" fill="#fcd672"/>
<circle cx="713.2" cy="816.6" r="5.1" fill="#feeba0"/>
<circle cx="703.8" cy="809.3" r="5.1" fill="#fcd672"/>
<circle cx="711.8" cy="809.9" r="5.1" fill="#fcd672"/>
<circle cx="709.4" cy="803.3" r="5.1" fill="#feeba0"/>
<circle cx="717.0" cy="804.1" r="5.1" fill="#feeba0"/>
<circle cx="687.9" cy="797.2" r="5.1" fill="#fcd672"/>
<circle cx="694.5" cy="797.3" r="5.1" fill="#fcd672"/>
<circle cx="701.1" cy="797.2" r="5.1" fill="#fcd672"/>
<circle cx="708.1" cy="798.1" r="5.1" fill="#fcd672"/>
<circle cx="708.2" cy="744.5" r="5.1" fill="#f78b3a"/>
<circle cx="714.0" cy="743.6" r="5.1" fill="#f78b3a"/>
<circle cx="708.5" cy="736.2" r="5.1" fill="#f78b3a"/>
<circle cx="712.2" cy="737.4" r="5.1" fill="#f78b3a"/>
<circle cx="707.1" cy="730.4" r="5.1" fill="#f78b3a"/>
<circle cx="706.0" cy="725.7" r="5.1" fill="#f78b3a"/>
<circle cx="708.4" cy="719.5" r="5.1" fill="#f78b3a"/>
<circle cx="706.9" cy="811.2" r="5.1" fill="#f78b3a"/>
<circle cx="706.0" cy="806.5" r="5.1" fill="#f78b3a"/>
<circle cx="707.3" cy="799.5" r="5.1" fill="#f78b3a"/>
<circle cx="712.9" cy="801.1" r="5.1" fill="#f78b3a"/>
<circle cx="708.0" cy="795.3" r="5.1" fill="#f78b3a"/>
<circle cx="708.3" cy="783.7" r="5.1" fill="#f78b3a"/>
<circle cx="724.5" cy="793.0" r="5.1" fill="#feeba0"/>
<circle cx="733.5" cy="795.5" r="5.1" fill="#fcd672"/>
<circle cx="739.5" cy="795.5" r="5.1" fill="#f78b3a"/>
<circle cx="756.4" cy="795.1" r="5.1" fill="#f78b3a"/>
<circle cx="761.4" cy="795.6" r="5.1" fill="#f78b3a"/>
<circle cx="768.0" cy="794.6" r="5.1" fill="#fcd672"/>
<circle cx="761.1" cy="789.1" r="5.1" fill="#fcd672"/>
<circle cx="724.3" cy="782.3" r="5.1" fill="#f78b3a"/>
<circle cx="738.1" cy="780.2" r="5.1" fill="#feeba0"/>
<circle cx="744.9" cy="780.6" r="5.1" fill="#fcd672"/>
<circle cx="759.7" cy="782.7" r="5.1" fill="#f78b3a"/>
<circle cx="765.8" cy="781.2" r="5.1" fill="#f78b3a"/>
<circle cx="726.2" cy="777.3" r="5.1" fill="#fcd672"/>
<circle cx="740.5" cy="777.3" r="5.1" fill="#feeba0"/>
<circle cx="745.6" cy="774.4" r="5.1" fill="#f78b3a"/>
<circle cx="729.9" cy="768.6" r="5.1" fill="#f78b3a"/>
<circle cx="738.2" cy="768.6" r="5.1" fill="#f78b3a"/>
<circle cx="744.4" cy="768.1" r="5.1" fill="#f78b3a"/>
<circle cx="752.7" cy="769.4" r="5.1" fill="#f78b3a"/>
<circle cx="758.3" cy="768.8" r="5.1" fill="#ee4a2a"/>
<circle cx="762.3" cy="769.1" r="5.1" fill="#f78b3a"/>
<circle cx="724.8" cy="763.4" r="5.1" fill="#f78b3a"/>
<circle cx="731.8" cy="765.2" r="5.1" fill="#f78b3a"/>
<circle cx="747.1" cy="764.6" r="5.1" fill="#ee4a2a"/>
<circle cx="753.4" cy="763.6" r="5.1" fill="#feeba0"/>
<circle cx="758.7" cy="763.3" r="5.1" fill="#fcd672"/>
<circle cx="723.6" cy="759.5" r="5.1" fill="#f78b3a"/>
<circle cx="767.4" cy="759.5" r="5.1" fill="#ee4a2a"/>
<circle cx="724.3" cy="751.9" r="5.1" fill="#ee4a2a"/>
<circle cx="732.2" cy="753.9" r="5.1" fill="#f78b3a"/>
<circle cx="745.5" cy="752.5" r="5.1" fill="#ee4a2a"/>
<circle cx="752.3" cy="752.5" r="5.1" fill="#f78b3a"/>
<circle cx="769.3" cy="753.6" r="5.1" fill="#f78b3a"/>
<circle cx="724.1" cy="746.5" r="5.1" fill="#feeba0"/>
<circle cx="731.5" cy="745.2" r="5.1" fill="#f78b3a"/>
<circle cx="737.6" cy="745.4" r="5.1" fill="#f78b3a"/>
<circle cx="747.0" cy="746.0" r="5.1" fill="#fcd672"/>
<circle cx="750.9" cy="744.8" r="5.1" fill="#f78b3a"/>
<circle cx="757.3" cy="745.2" r="5.1" fill="#f78b3a"/>
<circle cx="764.1" cy="746.2" r="5.1" fill="#f78b3a"/>
<circle cx="724.9" cy="741.0" r="5.1" fill="#f78b3a"/>
<circle cx="738.2" cy="739.2" r="5.1" fill="#f78b3a"/>
<circle cx="759.0" cy="739.3" r="5.1" fill="#f78b3a"/>
<circle cx="730.0" cy="734.3" r="5.1" fill="#ee4a2a"/>
<circle cx="738.6" cy="735.8" r="5.1" fill="#f78b3a"/>
<circle cx="745.4" cy="734.7" r="5.1" fill="#f78b3a"/>
<circle cx="751.3" cy="735.9" r="5.1" fill="#f78b3a"/>
<circle cx="758.0" cy="736.2" r="5.1" fill="#f78b3a"/>
<circle cx="766.4" cy="735.1" r="5.1" fill="#f78b3a"/>
<circle cx="724.2" cy="728.6" r="5.1" fill="#f78b3a"/>
<circle cx="732.8" cy="730.0" r="5.1" fill="#f78b3a"/>
<circle cx="745.6" cy="727.7" r="5.1" fill="#fcd672"/>
<circle cx="754.6" cy="730.3" r="5.1" fill="#f78b3a"/>
<circle cx="758.3" cy="727.6" r="5.1" fill="#f78b3a"/>
<circle cx="767.7" cy="729.1" r="5.1" fill="#f78b3a"/>
<circle cx="724.4" cy="722.5" r="5.1" fill="#f78b3a"/>
<circle cx="732.6" cy="723.0" r="5.1" fill="#f78b3a"/>
<circle cx="738.1" cy="723.2" r="5.1" fill="#f78b3a"/>
<circle cx="745.8" cy="723.3" r="5.1" fill="#ee4a2a"/>
<circle cx="755.3" cy="722.0" r="5.1" fill="#f78b3a"/>
<circle cx="760.9" cy="721.8" r="5.1" fill="#ee4a2a"/>
<circle cx="770.4" cy="724.1" r="5.1" fill="#f78b3a"/>
<circle cx="724.8" cy="716.8" r="5.1" fill="#f78b3a"/>
<circle cx="730.4" cy="719.2" r="5.1" fill="#f78b3a"/>
<circle cx="739.1" cy="717.2" r="5.1" fill="#feeba0"/>
<circle cx="746.8" cy="718.0" r="5.1" fill="#feeba0"/>
<circle cx="753.4" cy="717.0" r="5.1" fill="#fcd672"/>
<circle cx="760.9" cy="717.5" r="5.1" fill="#f78b3a"/>
<circle cx="765.4" cy="716.5" r="5.1" fill="#fcd672"/>
<circle cx="725.7" cy="831.8" r="5.1" fill="#f78b3a"/>
<circle cx="731.1" cy="832.7" r="5.1" fill="#f78b3a"/>
<circle cx="744.5" cy="832.8" r="5.1" fill="#fcd672"/>
<circle cx="751.7" cy="832.9" r="5.1" fill="#f78b3a"/>
<circle cx="767.1" cy="834.1" r="5.1" fill="#f78b3a"/>
<circle cx="726.1" cy="826.2" r="5.1" fill="#f78b3a"/>
<circle cx="738.8" cy="826.2" r="5.1" fill="#f78b3a"/>
<circle cx="751.2" cy="827.1" r="5.1" fill="#feeba0"/>
<circle cx="764.2" cy="826.0" r="5.1" fill="#f78b3a"/>
<circle cx="724.3" cy="820.5" r="5.1" fill="#feeba0"/>
<circle cx="741.3" cy="822.5" r="5.1" fill="#feeba0"/>
<circle cx="746.0" cy="822.9" r="5.1" fill="#fcd672"/>
<circle cx="751.7" cy="821.4" r="5.1" fill="#f78b3a"/>
<circle cx="765.8" cy="821.9" r="5.1" fill="#fcd672"/>
<circle cx="724.9" cy="814.1" r="5.1" fill="#feeba0"/>
<circle cx="732.7" cy="814.3" r="5.1" fill="#fcd672"/>
<circle cx="746.0" cy="815.0" r="5.1" fill="#fcd672"/>
<circle cx="725.9" cy="806.9" r="5.1" fill="#f78b3a"/>
<circle cx="731.6" cy="807.6" r="5.1" fill="#feeba0"/>
<circle cx="737.2" cy="809.1" r="5.1" fill="#fcd672"/>
<circle cx="751.1" cy="806.6" r="5.1" fill="#f78b3a"/>
<circle cx="730.1" cy="802.9" r="5.1" fill="#fcd672"/>
<circle cx="752.8" cy="803.2" r="5.1" fill="#feeba0"/>
<circle cx="761.0" cy="802.7" r="5.1" fill="#feeba0"/>
<circle cx="725.5" cy="797.1" r="5.1" fill="#f78b3a"/>
<circle cx="741.0" cy="795.0" r="5.1" fill="#fcd672"/>
<circle cx="748.3" cy="795.4" r="5.1" fill="#feeba0"/>
<circle cx="754.7" cy="795.4" r="5.1" fill="#f78b3a"/>
<circle cx="759.4" cy="795.6" r="5.1" fill="#fcd672"/>
<circle cx="765.5" cy="795.4" r="5.1" fill="#fcd672"/>
<circle cx="769.0" cy="795.3" r="5.1" fill="#f78b3a"/>
<circle cx="776.6" cy="794.2" r="5.1" fill="#f78b3a"/>
<circle cx="769.5" cy="789.6" r="5.1" fill="#f78b3a"/>
<circle cx="774.6" cy="783.0" r="5.1" fill="#f78b3a"/>
<circle cx="768.4" cy="779.2" r="5.1" fill="#ee4a2a"/>
<circle cx="768.2" cy="774.0" r="5.1" fill="#fcd672"/>
<circle cx="777.5" cy="772.0" r="5.1" fill="#f78b3a"/>
<circle cx="770.7" cy="767.0" r="5.1" fill="#feeba0"/>
<circle cx="777.0" cy="766.6" r="5.1" fill="#f78b3a"/>
<circle cx="768.7" cy="761.9" r="5.1" fill="#f78b3a"/>
<circle cx="775.7" cy="761.9" r="5.1" fill="#fcd672"/>
<circle cx="782.8" cy="761.9" r="5.1" fill="#feeba0"/>
<circle cx="769.6" cy="753.1" r="5.1" fill="#f78b3a"/>
<circle cx="768.4" cy="747.5" r="5.1" fill="#f78b3a"/>
<circle cx="775.0" cy="749.9" r="5.1" fill="#fcd672"/>
<circle cx="776.6" cy="832.9" r="5.1" fill="#fcd672"/>
<circle cx="783.6" cy="832.5" r="5.1" fill="#fcd672"/>
<circle cx="776.9" cy="828.3" r="5.1" fill="#feeba0"/>
<circle cx="783.9" cy="828.0" r="5.1" fill="#f78b3a"/>
<circle cx="777.3" cy="820.1" r="5.1" fill="#f78b3a"/>
<circle cx="776.8" cy="814.5" r="5.1" fill="#feeba0"/>
<circle cx="784.9" cy="806.8" r="5.1" fill="#feeba0"/>
<circle cx="768.4" cy="802.2" r="5.1" fill="#fcd672"/>
<circle cx="775.6" cy="803.1" r="5.1" fill="#feeba0"/>
<circle cx="783.8" cy="801.3" r="5.1" fill="#feeba0"/>
<circle cx="769.8" cy="797.6" r="5.1" fill="#feeba0"/>
<circle cx="786.2" cy="772.6" r="5.1" fill="#f78b3a"/>
<circle cx="795.0" cy="772.6" r="5.1" fill="#f78b3a"/>
<circle cx="787.0" cy="766.0" r="5.1" fill="#f78b3a"/>
<circle cx="793.7" cy="765.7" r="5.1" fill="#f78b3a"/>
<circle cx="787.3" cy="757.7" r="5.1" fill="#fcd672"/>
<circle cx="785.3" cy="751.6" r="5.1" fill="#f78b3a"/>
<circle cx="737.2" cy="713.1" r="5.1" fill="#ee4a2a"/>
<circle cx="751.8" cy="710.8" r="5.1" fill="#f78b3a"/>
<circle cx="756.7" cy="712.1" r="5.1" fill="#ee4a2a"/>
<circle cx="731.0" cy="704.2" r="5.1" fill="#f78b3a"/>
<circle cx="737.4" cy="704.1" r="5.1" fill="#f78b3a"/>
<circle cx="743.5" cy="705.2" r="5.1" fill="#f78b3a"/>
<circle cx="749.3" cy="704.1" r="5.1" fill="#f78b3a"/>
<circle cx="737.7" cy="700.6" r="5.1" fill="#f78b3a"/>
<circle cx="746.8" cy="700.3" r="5.1" fill="#f78b3a"/>
<circle cx="753.4" cy="698.5" r="5.1" fill="#f78b3a"/>
<circle cx="762.1" cy="698.6" r="5.1" fill="#ee4a2a"/>
<circle cx="806.3" cy="778.6" r="5.1" fill="#f78b3a"/>
<circle cx="812.9" cy="780.0" r="5.1" fill="#fcd672"/>
<circle cx="832.1" cy="778.7" r="5.1" fill="#f78b3a"/>
<circle cx="808.0" cy="772.5" r="5.1" fill="#f78b3a"/>
<circle cx="820.6" cy="773.8" r="5.1" fill="#f78b3a"/>
<circle cx="805.8" cy="766.9" r="5.1" fill="#f78b3a"/>
<circle cx="821.1" cy="767.5" r="5.1" fill="#ee4a2a"/>
<circle cx="837.0" cy="767.8" r="5.1" fill="#f78b3a"/>
<circle cx="806.4" cy="761.5" r="5.1" fill="#f78b3a"/>
<circle cx="811.9" cy="761.4" r="5.1" fill="#fcd672"/>
<circle cx="819.1" cy="760.9" r="5.1" fill="#f78b3a"/>
<circle cx="826.9" cy="759.6" r="5.1" fill="#f78b3a"/>
<circle cx="831.5" cy="759.9" r="5.1" fill="#f78b3a"/>
<circle cx="806.9" cy="755.7" r="5.1" fill="#f78b3a"/>
<circle cx="813.3" cy="755.8" r="5.1" fill="#f78b3a"/>
<circle cx="822.6" cy="756.6" r="5.1" fill="#f78b3a"/>
<circle cx="829.9" cy="754.1" r="5.1" fill="#f78b3a"/>
<circle cx="835.0" cy="754.8" r="5.1" fill="#f78b3a"/>
<circle cx="832.7" cy="748.4" r="5.1" fill="#f78b3a"/>
<circle cx="841.5" cy="750.2" r="5.1" fill="#f78b3a"/>
<circle cx="807.9" cy="742.1" r="5.1" fill="#f78b3a"/>
<circle cx="814.1" cy="744.3" r="5.1" fill="#fcd672"/>
<circle cx="821.4" cy="744.6" r="5.1" fill="#f78b3a"/>
<circle cx="839.4" cy="744.7" r="5.1" fill="#f78b3a"/>
<circle cx="807.8" cy="736.4" r="5.1" fill="#f78b3a"/>
<circle cx="819.9" cy="737.7" r="5.1" fill="#f78b3a"/>
<circle cx="829.4" cy="736.3" r="5.1" fill="#f78b3a"/>
<circle cx="837.4" cy="736.2" r="5.1" fill="#f78b3a"/>
<circle cx="819.6" cy="729.2" r="5.1" fill="#f78b3a"/>
<circle cx="829.5" cy="730.8" r="5.1" fill="#fcd672"/>
<circle cx="814.5" cy="827.8" r="5.1" fill="#fcd672"/>
<circle cx="822.9" cy="829.2" r="5.1" fill="#fcd672"/>
<circle cx="837.6" cy="828.1" r="5.1" fill="#fcd672"/>
<circle cx="807.8" cy="824.7" r="5.1" fill="#f78b3a"/>
<circle cx="828.7" cy="822.9" r="5.1" fill="#fcd672"/>
<circle cx="834.3" cy="823.4" r="5.1" fill="#f78b3a"/>
<circle cx="808.4" cy="815.8" r="5.1" fill="#f78b3a"/>
<circle cx="815.1" cy="816.0" r="5.1" fill="#ee4a2a"/>
<circle cx="809.9" cy="809.8" r="5.1" fill="#f78b3a"/>
<circle cx="816.4" cy="810.6" r="5.1" fill="#fcd672"/>
<circle cx="825.6" cy="811.2" r="5.1" fill="#feeba0"/>
<circle cx="839.8" cy="810.8" r="5.1" fill="#f78b3a"/>
<circle cx="809.0" cy="805.1" r="5.1" fill="#f78b3a"/>
<circle cx="823.1" cy="804.9" r="5.1" fill="#fcd672"/>
<circle cx="829.3" cy="805.1" r="5.1" fill="#fcd672"/>
<circle cx="809.6" cy="799.5" r="5.1" fill="#fcd672"/>
<circle cx="817.7" cy="799.3" r="5.1" fill="#feeba0"/>
<circle cx="828.6" cy="798.2" r="5.1" fill="#fcd672"/>
<circle cx="835.0" cy="798.2" r="5.1" fill="#fcd672"/>
<circle cx="815.4" cy="791.4" r="5.1" fill="#fcd672"/>
<circle cx="822.4" cy="785.0" r="5.1" fill="#f78b3a"/>
<circle cx="829.1" cy="786.1" r="5.1" fill="#fcd672"/>
<circle cx="836.7" cy="786.6" r="5.1" fill="#f78b3a"/>
<circle cx="808.3" cy="781.6" r="5.1" fill="#ee4a2a"/>
<circle cx="814.8" cy="781.1" r="5.1" fill="#feeba0"/>
<circle cx="820.8" cy="781.3" r="5.1" fill="#f78b3a"/>
<circle cx="828.8" cy="781.0" r="5.1" fill="#fcd672"/>
<circle cx="837.2" cy="782.0" r="5.1" fill="#fcd672"/>
<circle cx="824.8" cy="722.7" r="5.1" fill="#f78b3a"/>
<circle cx="821.0" cy="719.4" r="5.1" fill="#f78b3a"/>
<circle cx="816.2" cy="713.1" r="5.1" fill="#f78b3a"/>
<circle cx="815.7" cy="701.9" r="5.1" fill="#f78b3a"/>
<circle cx="822.3" cy="700.2" r="5.1" fill="#f78b3a"/>
<circle cx="822.3" cy="694.1" r="5.1" fill="#f78b3a"/>
<circle cx="815.6" cy="689.4" r="5.1" fill="#f78b3a"/>
<circle cx="823.7" cy="687.8" r="5.1" fill="#f78b3a"/>
<circle cx="815.8" cy="683.1" r="5.1" fill="#f78b3a"/>
<circle cx="816.3" cy="677.5" r="5.1" fill="#f78b3a"/>
<circle cx="820.9" cy="677.5" r="5.1" fill="#f78b3a"/>
<circle cx="849.8" cy="795.0" r="5.1" fill="#fcd672"/>
<circle cx="856.0" cy="793.2" r="5.1" fill="#f78b3a"/>
<circle cx="863.7" cy="792.9" r="5.1" fill="#fcd672"/>
<circle cx="870.2" cy="794.6" r="5.1" fill="#f78b3a"/>
<circle cx="875.7" cy="792.8" r="5.1" fill="#f78b3a"/>
<circle cx="883.7" cy="793.3" r="5.1" fill="#fcd672"/>
<circle cx="890.5" cy="795.3" r="5.1" fill="#f78b3a"/>
<circle cx="864.1" cy="786.9" r="5.1" fill="#fcd672"/>
<circle cx="869.8" cy="788.4" r="5.1" fill="#fcd672"/>
<circle cx="878.7" cy="786.7" r="5.1" fill="#f78b3a"/>
<circle cx="885.8" cy="787.1" r="5.1" fill="#f78b3a"/>
<circle cx="893.8" cy="786.1" r="5.1" fill="#f78b3a"/>
<circle cx="900.6" cy="788.4" r="5.1" fill="#f78b3a"/>
<circle cx="851.0" cy="781.5" r="5.1" fill="#f78b3a"/>
<circle cx="854.6" cy="781.7" r="5.1" fill="#f78b3a"/>
<circle cx="874.3" cy="779.6" r="5.1" fill="#f78b3a"/>
<circle cx="880.3" cy="781.2" r="5.1" fill="#fcd672"/>
<circle cx="887.0" cy="780.0" r="5.1" fill="#f78b3a"/>
<circle cx="897.4" cy="780.9" r="5.1" fill="#f78b3a"/>
<circle cx="901.1" cy="781.0" r="5.1" fill="#fcd672"/>
<circle cx="855.8" cy="775.5" r="5.1" fill="#f78b3a"/>
<circle cx="869.5" cy="777.2" r="5.1" fill="#f78b3a"/>
<circle cx="878.5" cy="775.0" r="5.1" fill="#f78b3a"/>
<circle cx="890.7" cy="777.0" r="5.1" fill="#f78b3a"/>
<circle cx="854.5" cy="769.6" r="5.1" fill="#f78b3a"/>
<circle cx="864.4" cy="769.2" r="5.1" fill="#f78b3a"/>
<circle cx="871.4" cy="769.0" r="5.1" fill="#fcd672"/>
<circle cx="878.0" cy="768.2" r="5.1" fill="#f78b3a"/>
<circle cx="891.8" cy="770.2" r="5.1" fill="#f78b3a"/>
<circle cx="898.4" cy="770.0" r="5.1" fill="#f78b3a"/>
<circle cx="850.5" cy="762.8" r="5.1" fill="#f78b3a"/>
<circle cx="864.4" cy="765.0" r="5.1" fill="#f78b3a"/>
<circle cx="874.8" cy="764.9" r="5.1" fill="#f78b3a"/>
<circle cx="881.9" cy="765.1" r="5.1" fill="#f78b3a"/>
<circle cx="888.8" cy="762.8" r="5.1" fill="#f78b3a"/>
<circle cx="848.8" cy="758.6" r="5.1" fill="#fcd672"/>
<circle cx="857.4" cy="759.4" r="5.1" fill="#f78b3a"/>
<circle cx="866.6" cy="758.3" r="5.1" fill="#f78b3a"/>
<circle cx="871.0" cy="758.9" r="5.1" fill="#f78b3a"/>
<circle cx="894.1" cy="758.1" r="5.1" fill="#f78b3a"/>
<circle cx="900.8" cy="758.0" r="5.1" fill="#f78b3a"/>
<circle cx="850.1" cy="754.0" r="5.1" fill="#f78b3a"/>
<circle cx="879.5" cy="753.1" r="5.1" fill="#f78b3a"/>
<circle cx="887.2" cy="754.1" r="5.1" fill="#f78b3a"/>
<circle cx="901.2" cy="752.4" r="5.1" fill="#f78b3a"/>
<circle cx="849.7" cy="747.6" r="5.1" fill="#f78b3a"/>
<circle cx="856.6" cy="748.4" r="5.1" fill="#f78b3a"/>
<circle cx="865.2" cy="748.4" r="5.1" fill="#f78b3a"/>
<circle cx="872.5" cy="748.0" r="5.1" fill="#f78b3a"/>
<circle cx="885.7" cy="748.8" r="5.1" fill="#f78b3a"/>
<circle cx="892.6" cy="747.5" r="5.1" fill="#f78b3a"/>
<circle cx="898.9" cy="748.3" r="5.1" fill="#f78b3a"/>
<circle cx="850.1" cy="742.3" r="5.1" fill="#f78b3a"/>
<circle cx="857.1" cy="744.4" r="5.1" fill="#f78b3a"/>
<circle cx="864.4" cy="744.4" r="5.1" fill="#f78b3a"/>
<circle cx="879.3" cy="742.5" r="5.1" fill="#f78b3a"/>
<circle cx="883.4" cy="743.7" r="5.1" fill="#f78b3a"/>
<circle cx="898.3" cy="742.1" r="5.1" fill="#f78b3a"/>
<circle cx="849.4" cy="735.0" r="5.1" fill="#fcd672"/>
<circle cx="857.3" cy="735.4" r="5.1" fill="#f78b3a"/>
<circle cx="863.1" cy="736.5" r="5.1" fill="#f78b3a"/>
<circle cx="878.1" cy="736.9" r="5.1" fill="#f78b3a"/>
<circle cx="884.1" cy="735.5" r="5.1" fill="#f78b3a"/>
<circle cx="890.0" cy="737.1" r="5.1" fill="#f78b3a"/>
<circle cx="897.8" cy="735.4" r="5.1" fill="#f78b3a"/>
<circle cx="849.4" cy="731.0" r="5.1" fill="#f78b3a"/>
<circle cx="856.9" cy="730.5" r="5.1" fill="#f78b3a"/>
<circle cx="864.4" cy="730.8" r="5.1" fill="#f78b3a"/>
<circle cx="869.2" cy="729.1" r="5.1" fill="#f78b3a"/>
<circle cx="878.2" cy="731.3" r="5.1" fill="#f78b3a"/>
<circle cx="890.9" cy="730.3" r="5.1" fill="#f78b3a"/>
<circle cx="858.3" cy="834.3" r="5.1" fill="#f78b3a"/>
<circle cx="865.9" cy="832.0" r="5.1" fill="#f78b3a"/>
<circle cx="871.7" cy="831.8" r="5.1" fill="#fcd672"/>
<circle cx="892.9" cy="833.7" r="5.1" fill="#f78b3a"/>
<circle cx="897.7" cy="833.5" r="5.1" fill="#f78b3a"/>
<circle cx="849.8" cy="828.6" r="5.1" fill="#feeba0"/>
<circle cx="861.1" cy="827.8" r="5.1" fill="#fcd672"/>
<circle cx="874.3" cy="828.5" r="5.1" fill="#f78b3a"/>
<circle cx="880.1" cy="828.0" r="5.1" fill="#fcd672"/>
<circle cx="889.1" cy="827.9" r="5.1" fill="#fcd672"/>
<circle cx="896.2" cy="829.0" r="5.1" fill="#f78b3a"/>
<circle cx="850.3" cy="822.3" r="5.1" fill="#fcd672"/>
<circle cx="855.5" cy="821.5" r="5.1" fill="#feeba0"/>
<circle cx="862.9" cy="823.1" r="5.1" fill="#fcd672"/>
<circle cx="870.6" cy="823.9" r="5.1" fill="#feeba0"/>
<circle cx="878.4" cy="823.1" r="5.1" fill="#f78b3a"/>
<circle cx="890.8" cy="822.0" r="5.1" fill="#fcd672"/>
<circle cx="897.0" cy="821.1" r="5.1" fill="#fcd672"/>
<circle cx="849.5" cy="815.6" r="5.1" fill="#f78b3a"/>
<circle cx="855.4" cy="818.3" r="5.1" fill="#feeba0"/>
<circle cx="864.6" cy="815.7" r="5.1" fill="#f78b3a"/>
<circle cx="868.7" cy="816.1" r="5.1" fill="#fcd672"/>
<circle cx="876.6" cy="818.3" r="5.1" fill="#f78b3a"/>
<circle cx="883.0" cy="817.8" r="5.1" fill="#fcd672"/>
<circle cx="864.2" cy="810.7" r="5.1" fill="#fcd672"/>
<circle cx="870.0" cy="809.1" r="5.1" fill="#feeba0"/>
<circle cx="885.2" cy="810.1" r="5.1" fill="#fcd672"/>
<circle cx="897.9" cy="809.5" r="5.1" fill="#fcd672"/>
<circle cx="871.1" cy="804.6" r="5.1" fill="#f78b3a"/>
<circle cx="877.4" cy="802.5" r="5.1" fill="#feeba0"/>
<circle cx="881.3" cy="804.4" r="5.1" fill="#feeba0"/>
<circle cx="889.7" cy="802.9" r="5.1" fill="#fcd672"/>
<circle cx="848.6" cy="797.6" r="5.1" fill="#feeba0"/>
<circle cx="856.8" cy="796.0" r="5.1" fill="#f78b3a"/>
<circle cx="863.5" cy="797.9" r="5.1" fill="#fcd672"/>
<circle cx="881.8" cy="798.5" r="5.1" fill="#feeba0"/>
<circle cx="897.4" cy="798.9" r="5.1" fill="#feeba0"/>
<circle cx="864.3" cy="724.9" r="5.1" fill="#f78b3a"/>
<circle cx="870.0" cy="722.8" r="5.1" fill="#f78b3a"/>
<circle cx="875.0" cy="722.6" r="5.1" fill="#f78b3a"/>
<circle cx="882.4" cy="723.7" r="5.1" fill="#f78b3a"/>
<circle cx="890.4" cy="724.6" r="5.1" fill="#f78b3a"/>
<circle cx="897.6" cy="722.5" r="5.1" fill="#f78b3a"/>
<circle cx="862.3" cy="718.5" r="5.1" fill="#f78b3a"/>
<circle cx="875.3" cy="717.0" r="5.1" fill="#f78b3a"/>
<circle cx="885.7" cy="718.2" r="5.1" fill="#f78b3a"/>
<circle cx="872.2" cy="712.2" r="5.1" fill="#f78b3a"/>
<circle cx="878.3" cy="712.4" r="5.1" fill="#f78b3a"/>
<circle cx="886.0" cy="712.8" r="5.1" fill="#f78b3a"/>
<circle cx="892.1" cy="712.7" r="5.1" fill="#f78b3a"/>
<circle cx="862.1" cy="703.7" r="5.1" fill="#f78b3a"/>
<circle cx="875.0" cy="704.4" r="5.1" fill="#f78b3a"/>
<circle cx="884.3" cy="703.8" r="5.1" fill="#f78b3a"/>
<circle cx="889.0" cy="703.9" r="5.1" fill="#f78b3a"/>
<circle cx="898.6" cy="704.9" r="5.1" fill="#f78b3a"/>
<circle cx="890.7" cy="828.0" r="5.1" fill="#f78b3a"/>
<circle cx="897.2" cy="827.7" r="5.1" fill="#f78b3a"/>
<circle cx="890.9" cy="821.7" r="5.1" fill="#f78b3a"/>
<circle cx="896.0" cy="814.6" r="5.1" fill="#f78b3a"/>
<circle cx="561.0" cy="742.0" r="5.2" fill="#f78b3a"/>
<circle cx="432.6" cy="736.3" r="5.2" fill="#f78b3a"/>
<circle cx="436.2" cy="805.7" r="5.2" fill="#f78b3a"/>
<circle cx="436.2" cy="818.0" r="5.2" fill="#f78b3a"/>
<circle cx="436.0" cy="797.5" r="5.2" fill="#fcd672"/>
<circle cx="456.0" cy="815.6" r="5.2" fill="#feeba0"/>
<circle cx="337.9" cy="815.0" r="5.2" fill="#feeba0"/>
<circle cx="369.3" cy="822.0" r="5.2" fill="#feeba0"/>
<circle cx="871.6" cy="680.8" r="5.2" fill="#f78b3a"/>
<circle cx="794.0" cy="811.2" r="5.2" fill="#f78b3a"/>
<circle cx="899.6" cy="829.0" r="5.2" fill="#f78b3a"/>
<circle cx="846.0" cy="682.0" r="5.2" fill="#f78b3a"/>
<circle cx="820.0" cy="672.0" r="5.2" fill="#f78b3a"/>
<circle cx="858.0" cy="702.0" r="5.2" fill="#f78b3a"/>
<circle cx="866.0" cy="706.0" r="5.2" fill="#f78b3a"/>
<circle cx="288.9" cy="612.6" r="5.2" fill="#ee4a2a"/>
<circle cx="384.4" cy="672.3" r="5.2" fill="#ee4a2a"/>
<circle cx="535.7" cy="637.5" r="5.2" fill="#ee4a2a"/>
<circle cx="535.7" cy="669.4" r="5.2" fill="#ee4a2a"/>
<circle cx="536.0" cy="681.2" r="5.2" fill="#ee4a2a"/>
<circle cx="540.0" cy="681.2" r="5.2" fill="#ee4a2a"/>
<circle cx="530.6" cy="700.3" r="5.2" fill="#ee4a2a"/>
<circle cx="544.0" cy="701.6" r="5.2" fill="#ee4a2a"/>
<circle cx="533.6" cy="715.6" r="5.2" fill="#ee4a2a"/>
<circle cx="550.4" cy="781.8" r="5.2" fill="#ee4a2a"/>
<circle cx="568.8" cy="751.1" r="5.2" fill="#ee4a2a"/>
<circle cx="576.3" cy="741.5" r="5.2" fill="#ee4a2a"/>
<circle cx="653.0" cy="708.7" r="5.2" fill="#ee4a2a"/>
<circle cx="654.1" cy="729.2" r="5.2" fill="#ee4a2a"/>
<circle cx="662.3" cy="733.3" r="5.2" fill="#f78b3a"/>
<circle cx="729.6" cy="698.5" r="5.2" fill="#ee4a2a"/>
<circle cx="749.4" cy="678.7" r="5.2" fill="#ee4a2a"/>
<circle cx="754.9" cy="670.5" r="5.2" fill="#ee4a2a"/>
<circle cx="747.4" cy="696.5" r="5.2" fill="#ee4a2a"/>
<circle cx="737.8" cy="680.8" r="5.2" fill="#f78b3a"/>
<circle cx="781.5" cy="701.9" r="5.2" fill="#ee4a2a"/>
<circle cx="792.4" cy="709.4" r="5.2" fill="#ee4a2a"/>
<circle cx="781.5" cy="720.4" r="5.2" fill="#f78b3a"/>
<circle cx="793.1" cy="725.8" r="5.2" fill="#f78b3a"/>
<circle cx="825.2" cy="745.0" r="5.2" fill="#ee4a2a"/>
<circle cx="650.3" cy="673.0" r="5.2" fill="#fcd672"/>
<polygon points="567.7,673.7 575.2,681.2 567.7,688.7 560.2,681.2" fill="#e60000"/>
<circle cx="864.2" cy="553.2" r="3.8" fill="#c0142e"/>
<text x="881.24" y="560.20" font-size="18.5" fill="#262626" textLength="48.32" lengthAdjust="spacingAndGlyphs">0.8−1</text>
<circle cx="864.2" cy="575.9" r="3.8" fill="#e0383c"/>
<text x="881.20" y="583.20" font-size="18.5" fill="#262626" textLength="67.08" lengthAdjust="spacingAndGlyphs">0.6−0.8</text>
<circle cx="864.2" cy="598.9" r="3.8" fill="#ea8a40"/>
<text x="881.20" y="606.20" font-size="18.5" fill="#262626" textLength="67.18" lengthAdjust="spacingAndGlyphs">0.4−0.6</text>
<circle cx="864.2" cy="621.6" r="3.8" fill="#e6d060"/>
<text x="881.20" y="628.80" font-size="18.5" fill="#262626" textLength="66.88" lengthAdjust="spacingAndGlyphs">0.2−0.4</text>
<circle cx="864.2" cy="644.0" r="3.8" fill="#f0e8b0"/>
<text x="881.01" y="651.20" font-size="18.5" fill="#262626" textLength="38.96" lengthAdjust="spacingAndGlyphs">&lt;0.2</text>
<text x="1385.43" y="59.60" font-size="30.5" font-style="italic" textLength="499.52" lengthAdjust="spacingAndGlyphs">BnaA08g11130D, BnaA08g11140D</text>
<path d="M1344 79.5 H1937.3 V436" fill="none" stroke="#808080" stroke-width="3.8" stroke-dasharray="18.7 7.2"/>
<line x1="1334.5" y1="77.0" x2="1334.5" y2="440.2" stroke="#000" stroke-width="3.5"/>
<line x1="1332.8" y1="438.5" x2="1938.0" y2="438.5" stroke="#000" stroke-width="3.5"/>
<line x1="1326.4" y1="438.3" x2="1334.5" y2="438.3" stroke="#000" stroke-width="3.5"/>
<text x="1304.75" y="448.90" font-size="27.2" textLength="15.92" lengthAdjust="spacingAndGlyphs">0</text>
<line x1="1326.4" y1="378.4" x2="1334.5" y2="378.4" stroke="#000" stroke-width="3.5"/>
<text x="1290.13" y="388.98" font-size="27.2" textLength="30.53" lengthAdjust="spacingAndGlyphs">20</text>
<line x1="1326.4" y1="318.5" x2="1334.5" y2="318.5" stroke="#000" stroke-width="3.5"/>
<text x="1290.83" y="329.06" font-size="27.2" textLength="29.80" lengthAdjust="spacingAndGlyphs">40</text>
<line x1="1326.4" y1="258.5" x2="1334.5" y2="258.5" stroke="#000" stroke-width="3.5"/>
<text x="1290.13" y="269.14" font-size="27.2" textLength="30.53" lengthAdjust="spacingAndGlyphs">60</text>
<line x1="1326.4" y1="198.6" x2="1334.5" y2="198.6" stroke="#000" stroke-width="3.5"/>
<text x="1290.27" y="209.22" font-size="27.2" textLength="30.39" lengthAdjust="spacingAndGlyphs">80</text>
<line x1="1326.4" y1="138.7" x2="1334.5" y2="138.7" stroke="#000" stroke-width="3.5"/>
<text x="1275.26" y="149.30" font-size="27.2" textLength="45.43" lengthAdjust="spacingAndGlyphs">100</text>
<line x1="1326.4" y1="78.8" x2="1334.5" y2="78.8" stroke="#000" stroke-width="3.5"/>
<text x="1275.26" y="89.38" font-size="27.2" textLength="45.43" lengthAdjust="spacingAndGlyphs">120</text>
<line x1="1334.5" y1="438.5" x2="1334.5" y2="446.4" stroke="#000" stroke-width="3.5"/>
<text x="1307.43" y="473.20" font-size="27.5" textLength="53.60" lengthAdjust="spacingAndGlyphs">10.0</text>
<line x1="1454.9" y1="438.5" x2="1454.9" y2="446.4" stroke="#000" stroke-width="3.5"/>
<text x="1427.82" y="473.20" font-size="27.5" textLength="53.90" lengthAdjust="spacingAndGlyphs">10.1</text>
<line x1="1575.3" y1="438.5" x2="1575.3" y2="446.4" stroke="#000" stroke-width="3.5"/>
<text x="1548.22" y="473.20" font-size="27.5" textLength="53.90" lengthAdjust="spacingAndGlyphs">10.2</text>
<line x1="1695.7" y1="438.5" x2="1695.7" y2="446.4" stroke="#000" stroke-width="3.5"/>
<text x="1668.63" y="473.20" font-size="27.5" textLength="53.75" lengthAdjust="spacingAndGlyphs">10.3</text>
<line x1="1816.1" y1="438.5" x2="1816.1" y2="446.4" stroke="#000" stroke-width="3.5"/>
<text x="1789.05" y="473.20" font-size="27.5" textLength="53.31" lengthAdjust="spacingAndGlyphs">10.4</text>
<line x1="1936.5" y1="438.5" x2="1936.5" y2="446.4" stroke="#000" stroke-width="3.5"/>
<text x="1909.43" y="473.20" font-size="27.5" textLength="53.60" lengthAdjust="spacingAndGlyphs">10.5</text>
<text transform="translate(1267.60 306.23) rotate(-90)" font-size="35" textLength="121.81" lengthAdjust="spacingAndGlyphs">XP-CLR</text>
<text x="1627.99" y="108.20" font-size="21.5" textLength="299.74" lengthAdjust="spacingAndGlyphs">CN2000&amp;10s vs CN1950&amp;70s</text>
<text x="1591.8" y="436.0" font-size="27" text-anchor="middle" fill="#d81818">&lt;</text>
<polyline points="1334.5,419.4 1340.3,422.0 1369.2,406.5 1370.5,424.9 1375.2,348.0 1377.8,419.4 1383.6,417.5 1386.2,423.3 1388.0,401.8 1397.3,417.5 1423.0,388.7 1425.6,424.1 1428.8,342.7 1432.2,419.4 1444.0,393.1 1490.0,361.0 1495.7,411.0 1500.5,372.9 1504.4,426.7 1508.3,411.0 1510.5,422.8 1512.8,323.0 1514.4,422.8 1517.0,397.8 1524.1,419.4 1538.0,399.2 1546.4,421.5 1568.7,421.5 1575.8,409.7 1576.6,340.0 1580.6,410.4 1584.0,253.4 1585.3,334.8 1598.6,94.5 1600.4,384.7 1605.6,275.7 1607.5,409.7 1610.1,421.5 1614.0,382.1 1624.0,415.0 1625.9,377.4 1637.7,422.8 1639.0,407.0 1674.4,391.3 1692.3,367.6 1692.8,296.7 1695.4,380.8 1697.3,270.5 1702.0,359.8 1712.5,412.3 1713.8,328.3 1716.4,415.0 1717.0,361.1 1720.4,367.6 1723.8,409.7 1725.6,296.7 1738.8,408.3 1748.0,413.6 1774.2,413.6 1787.4,426.7 1790.0,405.7 1824.6,324.3 1827.3,428.0 1858.3,355.8 1862.2,376.8 1865.6,422.8 1871.9,349.3 1876.6,413.6 1879.8,401.8 1885.8,421.5 1889.8,372.9 1893.2,326.9 1896.3,367.6 1903.4,409.7 1905.0,319.0 1907.6,372.9 1910.8,358.5 1918.1,424.1 1921.8,379.5 1925.2,422.8 1927.8,424.1 1931.8,336.1 1936.5,346.6" fill="none" stroke="#1a7ee8" stroke-width="4.2" stroke-linejoin="miter" stroke-miterlimit="3"/>
<line x1="1336.0" y1="410.8" x2="1936.0" y2="410.8" stroke="#e87070" stroke-width="3.6" stroke-dasharray="3.6 4.4" opacity="0.85"/>
<rect x="1315.3" y="517.9" width="632.4" height="340.6" fill="none" stroke="#000" stroke-width="3.5"/>
<line x1="1301.7" y1="558.5" x2="1315.3" y2="558.5" stroke="#000" stroke-width="3.5"/>
<line x1="1301.7" y1="619.2" x2="1315.3" y2="619.2" stroke="#000" stroke-width="3.5"/>
<line x1="1301.7" y1="680.0" x2="1315.3" y2="680.0" stroke="#000" stroke-width="3.5"/>
<line x1="1301.7" y1="740.5" x2="1315.3" y2="740.5" stroke="#000" stroke-width="3.5"/>
<line x1="1301.7" y1="800.9" x2="1315.3" y2="800.9" stroke="#000" stroke-width="3.5"/>
<text transform="translate(1289.60 588.19) rotate(-90)" font-size="29.5" textLength="53.02" lengthAdjust="spacingAndGlyphs">0.20</text>
<text transform="translate(1289.60 712.79) rotate(-90)" font-size="29.5" textLength="53.02" lengthAdjust="spacingAndGlyphs">0.10</text>
<text transform="translate(1289.60 834.59) rotate(-90)" font-size="29.5" textLength="53.02" lengthAdjust="spacingAndGlyphs">0.00</text>
<line x1="1947.0" y1="551.4" x2="1962.0" y2="551.4" stroke="#000" stroke-width="3.5"/>
<line x1="1947.0" y1="610.5" x2="1962.0" y2="610.5" stroke="#000" stroke-width="3.5"/>
<line x1="1947.0" y1="669.6" x2="1962.0" y2="669.6" stroke="#000" stroke-width="3.5"/>
<line x1="1947.0" y1="728.9" x2="1962.0" y2="728.9" stroke="#000" stroke-width="3.5"/>
<line x1="1947.0" y1="788.0" x2="1962.0" y2="788.0" stroke="#000" stroke-width="3.5"/>
<line x1="1947.0" y1="847.0" x2="1962.0" y2="847.0" stroke="#000" stroke-width="3.5"/>
<text transform="translate(1996.80 635.89) rotate(-90)" font-size="26.5" textLength="68.48" lengthAdjust="spacingAndGlyphs">0.004</text>
<text transform="translate(1996.80 760.60) rotate(-90)" font-size="26.5" textLength="69.05" lengthAdjust="spacingAndGlyphs">0.002</text>
<text transform="translate(1996.80 886.10) rotate(-90)" font-size="26.5" textLength="68.77" lengthAdjust="spacingAndGlyphs">0.000</text>
<text x="0" y="0" font-size="27.5" text-anchor="middle" transform="translate(1246 683.5) rotate(-90)"><tspan font-style="italic">F</tspan><tspan font-size="19" dy="4">ST</tspan></text>
<text x="0" y="0" font-size="33" font-weight="bold" text-anchor="middle" font-family="Liberation Serif, serif" transform="translate(2033 688) rotate(-90)">π</text>
<line x1="1338.4" y1="859.5" x2="1338.4" y2="871.8" stroke="#000" stroke-width="3.5"/>
<text x="1315.99" y="898.70" font-size="27.5" textLength="38.82" lengthAdjust="spacingAndGlyphs">9.6</text>
<line x1="1455.5" y1="859.5" x2="1455.5" y2="871.8" stroke="#000" stroke-width="3.5"/>
<text x="1433.10" y="898.70" font-size="27.5" textLength="38.67" lengthAdjust="spacingAndGlyphs">9.8</text>
<line x1="1572.6" y1="859.5" x2="1572.6" y2="871.8" stroke="#000" stroke-width="3.5"/>
<text x="1542.28" y="898.70" font-size="27.5" textLength="53.71" lengthAdjust="spacingAndGlyphs">10.0</text>
<line x1="1689.7" y1="859.5" x2="1689.7" y2="871.8" stroke="#000" stroke-width="3.5"/>
<text x="1659.37" y="898.70" font-size="27.5" textLength="54.01" lengthAdjust="spacingAndGlyphs">10.2</text>
<line x1="1806.8" y1="859.5" x2="1806.8" y2="871.8" stroke="#000" stroke-width="3.5"/>
<text x="1776.49" y="898.70" font-size="27.5" textLength="53.42" lengthAdjust="spacingAndGlyphs">10.4</text>
<line x1="1923.9" y1="859.5" x2="1923.9" y2="871.8" stroke="#000" stroke-width="3.5"/>
<text x="1893.57" y="898.70" font-size="27.5" textLength="53.86" lengthAdjust="spacingAndGlyphs">10.6</text>
<text x="1496.08" y="939.20" font-size="31.5" textLength="333.93" lengthAdjust="spacingAndGlyphs">Chromosome A08 (Mb)</text>
<text x="1350.08" y="553.50" font-size="26.5" fill="#e0301e" textLength="195.78" lengthAdjust="spacingAndGlyphs">Oil vs Vegetable</text>
<polyline points="1338.0,792.3 1345.2,775.4 1350.5,753.9 1356.4,703.9 1362.1,743.2 1367.5,728.0 1373.8,625.4 1380.0,614.6 1385.4,687.9 1391.6,709.3 1397.0,748.6 1403.2,717.3 1408.6,728.0 1413.9,721.8 1420.2,690.5 1426.4,730.7 1431.8,721.8 1437.1,717.3 1443.4,719.1 1448.8,702.1 1455.9,622.7 1461.3,650.4 1467.5,696.8 1472.9,773.6 1478.2,784.3 1483.6,785.2 1489.8,782.5 1497.5,828.0 1501.4,791.4 1508.6,777.1 1514.8,734.3 1521.1,761.1 1526.4,798.6 1531.8,770.0 1537.1,770.0 1543.4,816.4 1549.6,823.6 1555.9,820.0 1561.3,700.4 1567.5,721.8 1572.9,755.7 1578.2,743.2 1584.5,683.4 1590.7,681.6 1597.0,662.9 1602.3,574.5 1608.6,652.1 1620.2,762.9 1625.5,778.0 1631.8,732.5 1637.1,732.5 1642.5,712.0 1648.8,632.5 1655.0,623.6 1660.4,702.1 1666.6,759.3 1672.0,759.3 1678.2,745.9 1683.6,690.5 1689.8,683.4 1696.1,688.8 1701.4,666.4 1706.8,712.9 1713.0,762.0 1719.3,767.3 1725.5,786.1 1730.9,792.3 1737.1,766.4 1741.6,732.5 1747.9,675.4 1754.1,639.6 1760.4,635.2 1767.5,703.9 1772.0,757.5 1777.3,739.6 1783.6,684.3 1789.8,709.3 1795.7,762.9 1801.4,682.5 1806.8,630.7 1813.0,599.5 1818.4,603.9 1824.6,562.9 1830.9,562.9 1836.8,572.7 1842.1,529.8 1847.9,591.4 1853.6,614.6 1859.5,581.6 1865.7,584.3 1872.0,630.7 1877.3,702.1 1883.2,716.4 1888.9,703.9 1906.8,581.6 1913.0,627.1 1919.3,698.6 1925.0,728.9" fill="none" stroke="#e00a0a" stroke-width="3.2" stroke-linejoin="miter" stroke-miterlimit="3"/>
<polyline points="1338.0,800.4 1344.3,793.2 1351.4,788.8 1356.8,787.9 1362.1,716.4 1367.5,761.1 1373.8,845.9 1380.0,844.1 1385.4,712.9 1391.6,713.8 1397.0,831.6 1403.2,830.7 1408.6,711.1 1414.8,701.3 1420.2,818.2 1426.4,806.6 1431.8,810.2 1438.0,813.8 1444.3,773.6 1450.5,782.5 1455.9,827.1 1461.3,794.1 1467.5,799.5 1473.8,831.6 1479.1,777.1 1485.4,720.0 1490.7,770.0 1497.0,846.8 1502.3,805.7 1508.6,780.7 1514.8,806.6 1521.1,808.4 1526.4,771.8 1531.8,687.9 1538.0,708.4 1544.3,808.4 1549.6,800.4 1555.0,813.8 1561.3,814.6 1567.5,761.1 1572.9,773.6 1579.1,818.2 1584.5,812.9 1590.7,783.4 1597.0,799.5 1602.3,837.0 1608.6,827.1 1614.8,801.3 1620.2,801.3 1625.5,826.3 1631.8,825.4 1636.3,820.0 1642.5,812.0 1648.8,750.4 1655.0,733.4 1661.3,797.7 1666.6,767.3 1672.0,762.9 1678.2,812.9 1684.5,742.3 1689.8,737.9 1696.1,723.6 1701.4,708.4 1707.7,745.9 1713.0,530.7 1719.3,547.7 1724.6,694.1 1730.9,698.6 1737.1,761.1 1742.5,742.3 1748.8,750.4 1755.0,736.1 1760.4,699.5 1766.6,720.0 1772.0,764.6 1778.2,802.1 1783.6,823.6 1789.8,818.2 1795.2,802.1 1801.4,796.8 1813.0,843.2 1824.6,703.0 1830.9,712.0 1836.8,730.7 1847.9,607.5 1854.1,599.5 1865.7,778.9 1871.4,802.1 1877.3,764.6 1883.2,762.0 1889.3,803.0 1895.2,788.8 1901.1,716.4 1906.8,722.7 1912.5,789.6 1918.4,715.5 1925.0,732.5" fill="none" stroke="#000" stroke-width="3.2" stroke-linejoin="miter" stroke-miterlimit="3"/>
<line x1="1850.5" y1="535.3" x2="1898.4" y2="535.3" stroke="#e00a0a" stroke-width="4.2"/>
<line x1="1851.4" y1="563.4" x2="1899.7" y2="563.4" stroke="#000" stroke-width="4.2"/>
<text x="1901.10" y="540.30" font-size="24.5" font-style="italic" textLength="14.27" lengthAdjust="spacingAndGlyphs">F</text>
<text x="1916.63" y="543.90" font-size="17.5" textLength="21.76" lengthAdjust="spacingAndGlyphs">ST</text>
<text x="1904.5" y="571.5" font-size="30" font-weight="bold" font-family="Liberation Serif, serif">π</text>
<line x1="660.3" y1="1043.1" x2="1524.0" y2="1043.1" stroke="#000" stroke-width="2.5"/>
<line x1="681.6" y1="1035.7" x2="681.6" y2="1043.1" stroke="#000" stroke-width="2.5"/>
<text x="676.73" y="1028.70" font-size="19.5" textLength="10.77" lengthAdjust="spacingAndGlyphs">0</text>
<line x1="790.2" y1="1035.7" x2="790.2" y2="1043.1" stroke="#000" stroke-width="2.5"/>
<text x="773.71" y="1028.70" font-size="19.5" textLength="33.79" lengthAdjust="spacingAndGlyphs">200</text>
<line x1="898.7" y1="1035.7" x2="898.7" y2="1043.1" stroke="#000" stroke-width="2.5"/>
<text x="882.79" y="1028.70" font-size="19.5" textLength="33.27" lengthAdjust="spacingAndGlyphs">400</text>
<line x1="1007.3" y1="1035.7" x2="1007.3" y2="1043.1" stroke="#000" stroke-width="2.5"/>
<text x="990.85" y="1028.70" font-size="19.5" textLength="33.79" lengthAdjust="spacingAndGlyphs">600</text>
<line x1="1115.9" y1="1035.7" x2="1115.9" y2="1043.1" stroke="#000" stroke-width="2.5"/>
<text x="1099.52" y="1028.70" font-size="19.5" textLength="33.69" lengthAdjust="spacingAndGlyphs">800</text>
<line x1="1224.4" y1="1035.7" x2="1224.4" y2="1043.1" stroke="#000" stroke-width="2.5"/>
<text x="1202.19" y="1028.70" font-size="19.5" textLength="44.81" lengthAdjust="spacingAndGlyphs">1000</text>
<line x1="1333.0" y1="1035.7" x2="1333.0" y2="1043.1" stroke="#000" stroke-width="2.5"/>
<text x="1310.76" y="1028.70" font-size="19.5" textLength="44.81" lengthAdjust="spacingAndGlyphs">1200</text>
<line x1="1441.6" y1="1035.7" x2="1441.6" y2="1043.1" stroke="#000" stroke-width="2.5"/>
<text x="1419.33" y="1028.70" font-size="19.5" textLength="44.81" lengthAdjust="spacingAndGlyphs">1400</text>
<text x="1471.0" y="1028.7" font-size="19.5" text-anchor="start">(bp)</text>
<path d="M680.3 1059.3 H1442.2 L1456 1077.6 L1442.2 1095.9 H680.3 Z" fill="#000"/>
<polyline points="741.9,1050.3 741.9,1108 953.7,1138.4" fill="none" stroke="#000" stroke-width="2"/>
<polyline points="1318.8,1050.2 1318.8,1109.2 1109.5,1138.3" fill="none" stroke="#000" stroke-width="2"/>
<rect x="810.0" y="1138.4" width="358.6" height="108.6" fill="none" stroke="#000" stroke-width="2.6"/>
<line x1="810.0" y1="1175.3" x2="1168.6" y2="1175.3" stroke="#000" stroke-width="2.6"/>
<line x1="810.0" y1="1211.5" x2="1168.6" y2="1211.5" stroke="#000" stroke-width="2.6"/>
<line x1="928.0" y1="1138.4" x2="928.0" y2="1247.0" stroke="#000" stroke-width="2.6"/>
<line x1="1044.4" y1="1138.4" x2="1044.4" y2="1247.0" stroke="#000" stroke-width="2.6"/>
<text x="867.5" y="1163.6" font-size="23" text-anchor="middle">Hap A</text>
<text x="988.5" y="1166.5" font-size="23" text-anchor="middle">ATC (I)</text>
<text x="1114.8" y="1166.5" font-size="23" text-anchor="middle">GCG(A)</text>
<text x="867.5" y="1199.8" font-size="23" text-anchor="middle">Hap B</text>
<text x="988.5" y="1202.2" font-size="23" text-anchor="middle">GTC(V)</text>
<text x="1114.8" y="1202.2" font-size="23" text-anchor="middle">CCG(P)</text>
<text x="867.5" y="1235.3" font-size="23" text-anchor="middle">Hap C</text>
<text x="988.5" y="1236.9" font-size="23" text-anchor="middle">ATC (I)</text>
<text x="1114.8" y="1236.9" font-size="23" text-anchor="middle">CCG(P)</text>
<text x="356.03" y="1096.20" font-size="33" font-weight="bold" font-style="italic" textLength="256.24" lengthAdjust="spacingAndGlyphs">BnaA08g11140D</text>
<rect x="148.0" y="1360.0" width="288.8" height="541.5" fill="none" stroke="#000" stroke-width="3"/>
<line x1="135.7" y1="1451.9" x2="148.0" y2="1451.9" stroke="#000" stroke-width="3"/>
<text x="96.03" y="1462.40" font-size="28" textLength="29.59" lengthAdjust="spacingAndGlyphs">40</text>
<line x1="135.7" y1="1580.5" x2="148.0" y2="1580.5" stroke="#000" stroke-width="3"/>
<text x="95.62" y="1591.00" font-size="28" textLength="30.02" lengthAdjust="spacingAndGlyphs">30</text>
<line x1="135.7" y1="1710.6" x2="148.0" y2="1710.6" stroke="#000" stroke-width="3"/>
<text x="95.34" y="1721.10" font-size="28" textLength="30.32" lengthAdjust="spacingAndGlyphs">20</text>
<line x1="135.7" y1="1838.0" x2="148.0" y2="1838.0" stroke="#000" stroke-width="3"/>
<text x="94.60" y="1848.50" font-size="28" textLength="31.08" lengthAdjust="spacingAndGlyphs">10</text>
<text transform="translate(75.80 1797.85) rotate(-90)" font-size="35.5" textLength="357.41" lengthAdjust="spacingAndGlyphs">Erucic acids content (%)</text>
<text x="164.94" y="1318.60" font-size="32.5" font-weight="bold" font-style="italic" textLength="255.80" lengthAdjust="spacingAndGlyphs">BnaA08g11020D</text>
<text x="237.8" y="1351.8" font-size="27" fill="#c0141e" textLength="116" lengthAdjust="spacingAndGlyphs"><tspan font-style="italic">P</tspan> = 0.007</text>
<line x1="227.5" y1="1388.5" x2="227.5" y2="1499.5" stroke="#000" stroke-width="3" stroke-dasharray="11.5 13.3"/>
<line x1="227.5" y1="1877.0" x2="227.5" y2="1736.8" stroke="#000" stroke-width="3" stroke-dasharray="11.5 13.3"/>
<line x1="204.9" y1="1388.5" x2="250.1" y2="1388.5" stroke="#000" stroke-width="2.8" stroke-linecap="round"/>
<line x1="204.9" y1="1877.0" x2="250.1" y2="1877.0" stroke="#000" stroke-width="2.8" stroke-linecap="round"/>
<rect x="184.2" y="1499.5" width="86.6" height="237.3" fill="none" stroke="#000" stroke-width="3"/>
<line x1="185.4" y1="1597.0" x2="269.6" y2="1597.0" stroke="#000" stroke-width="8"/>
<line x1="358.8" y1="1399.4" x2="358.8" y2="1435.0" stroke="#000" stroke-width="3" stroke-dasharray="11.5 13.3"/>
<line x1="358.8" y1="1740.6" x2="358.8" y2="1561.3" stroke="#000" stroke-width="3" stroke-dasharray="11.5 13.3"/>
<line x1="340.8" y1="1399.4" x2="376.8" y2="1399.4" stroke="#000" stroke-width="2.8" stroke-linecap="round"/>
<line x1="340.8" y1="1740.6" x2="376.8" y2="1740.6" stroke="#000" stroke-width="2.8" stroke-linecap="round"/>
<rect x="315.2" y="1435.0" width="87.2" height="126.3" fill="none" stroke="#000" stroke-width="3"/>
<line x1="316.4" y1="1473.2" x2="401.2" y2="1473.2" stroke="#000" stroke-width="8"/>
<line x1="227.5" y1="1901.5" x2="227.5" y2="1914.0" stroke="#000" stroke-width="3"/>
<line x1="358.8" y1="1901.5" x2="358.8" y2="1914.0" stroke="#000" stroke-width="3"/>
<text x="184.58" y="1942.30" font-size="32" textLength="89.26" lengthAdjust="spacingAndGlyphs">Hap A</text>
<text x="334.50" y="1942.30" font-size="32" textLength="90.47" lengthAdjust="spacingAndGlyphs">Hap B</text>
<text x="176.01" y="1978.20" font-size="28.5" textLength="113.43" lengthAdjust="spacingAndGlyphs">(n = 333)</text>
<text x="333.33" y="1978.20" font-size="28.5" textLength="96.97" lengthAdjust="spacingAndGlyphs">(n = 85)</text>
<rect x="585.7" y="1360.0" width="349.9" height="541.5" fill="none" stroke="#000" stroke-width="3"/>
<line x1="574.4" y1="1452.7" x2="585.7" y2="1452.7" stroke="#000" stroke-width="3"/>
<text x="535.53" y="1463.20" font-size="28" textLength="29.59" lengthAdjust="spacingAndGlyphs">40</text>
<line x1="574.4" y1="1583.6" x2="585.7" y2="1583.6" stroke="#000" stroke-width="3"/>
<text x="535.12" y="1594.10" font-size="28" textLength="30.02" lengthAdjust="spacingAndGlyphs">30</text>
<line x1="574.4" y1="1712.6" x2="585.7" y2="1712.6" stroke="#000" stroke-width="3"/>
<text x="534.84" y="1723.10" font-size="28" textLength="30.32" lengthAdjust="spacingAndGlyphs">20</text>
<line x1="574.4" y1="1838.6" x2="585.7" y2="1838.6" stroke="#000" stroke-width="3"/>
<text x="534.10" y="1849.10" font-size="28" textLength="31.08" lengthAdjust="spacingAndGlyphs">10</text>
<text transform="translate(515.00 1797.85) rotate(-90)" font-size="35.5" textLength="357.41" lengthAdjust="spacingAndGlyphs">Erucic acids content (%)</text>
<text x="637.03" y="1318.80" font-size="32.5" font-weight="bold" font-style="italic" textLength="255.84" lengthAdjust="spacingAndGlyphs">BnaA08g11140D</text>
<text x="653.2" y="1377.7" font-size="23" text-anchor="middle" font-weight="bold" fill="#d4141e">b</text>
<text x="760.0" y="1377.7" font-size="23" text-anchor="middle" font-weight="bold" fill="#d4141e">a</text>
<text x="867.7" y="1377.7" font-size="23" text-anchor="middle" font-weight="bold" fill="#d4141e">a</text>
<line x1="652.2" y1="1431.3" x2="652.2" y2="1643.2" stroke="#000" stroke-width="3" stroke-dasharray="11.5 13.3"/>
<line x1="652.2" y1="1879.5" x2="652.2" y2="1815.0" stroke="#000" stroke-width="3" stroke-dasharray="11.5 13.3"/>
<line x1="628.7" y1="1431.3" x2="675.7" y2="1431.3" stroke="#000" stroke-width="2.8" stroke-linecap="round"/>
<line x1="628.7" y1="1879.5" x2="675.7" y2="1879.5" stroke="#000" stroke-width="2.8" stroke-linecap="round"/>
<rect x="608.8" y="1643.2" width="86.8" height="171.8" fill="#5b9bd5" stroke="#000" stroke-width="3"/>
<line x1="610.0" y1="1747.1" x2="694.4" y2="1747.1" stroke="#000" stroke-width="8"/>
<line x1="761.5" y1="1379.9" x2="761.5" y2="1459.4" stroke="#000" stroke-width="3" stroke-dasharray="11.5 13.3"/>
<line x1="761.5" y1="1740.7" x2="761.5" y2="1580.6" stroke="#000" stroke-width="3" stroke-dasharray="11.5 13.3"/>
<line x1="738.5" y1="1379.9" x2="784.5" y2="1379.9" stroke="#000" stroke-width="2.8" stroke-linecap="round"/>
<line x1="738.5" y1="1740.7" x2="784.5" y2="1740.7" stroke="#000" stroke-width="2.8" stroke-linecap="round"/>
<rect x="718.7" y="1459.4" width="85.6" height="121.2" fill="#ed7d31" stroke="#000" stroke-width="3"/>
<line x1="719.9" y1="1500.7" x2="803.1" y2="1500.7" stroke="#000" stroke-width="8"/>
<line x1="870.3" y1="1399.4" x2="870.3" y2="1438.8" stroke="#000" stroke-width="3" stroke-dasharray="11.5 13.3"/>
<line x1="870.3" y1="1763.2" x2="870.3" y2="1600.0" stroke="#000" stroke-width="3" stroke-dasharray="11.5 13.3"/>
<line x1="847.8" y1="1399.4" x2="892.8" y2="1399.4" stroke="#000" stroke-width="2.8" stroke-linecap="round"/>
<line x1="847.8" y1="1763.2" x2="892.8" y2="1763.2" stroke="#000" stroke-width="2.8" stroke-linecap="round"/>
<rect x="826.8" y="1438.8" width="87.0" height="161.2" fill="#92d050" stroke="#000" stroke-width="3"/>
<line x1="828.0" y1="1508.2" x2="912.6" y2="1508.2" stroke="#000" stroke-width="8"/>
<circle cx="760.0" cy="1830.8" r="4.4" fill="none" stroke="#000" stroke-width="2.8"/>
<line x1="652.0" y1="1901.5" x2="652.0" y2="1914.0" stroke="#000" stroke-width="3"/>
<line x1="760.0" y1="1901.5" x2="760.0" y2="1914.0" stroke="#000" stroke-width="3"/>
<line x1="868.0" y1="1901.5" x2="868.0" y2="1914.0" stroke="#000" stroke-width="3"/>
<text x="606.38" y="1942.30" font-size="32" textLength="89.26" lengthAdjust="spacingAndGlyphs">Hap A</text>
<text x="719.70" y="1942.30" font-size="32" textLength="90.47" lengthAdjust="spacingAndGlyphs">Hap B</text>
<text x="841.66" y="1942.30" font-size="32" textLength="93.40" lengthAdjust="spacingAndGlyphs">Hap C</text>
<text x="597.43" y="1978.20" font-size="28.5" textLength="112.19" lengthAdjust="spacingAndGlyphs">(n = 131)</text>
<text x="715.34" y="1978.20" font-size="28.5" textLength="111.26" lengthAdjust="spacingAndGlyphs">(n = 121)</text>
<text x="839.73" y="1978.20" font-size="28.5" textLength="96.97" lengthAdjust="spacingAndGlyphs">(n = 48)</text>
<text x="1145.14" y="1318.90" font-size="32.5" font-weight="bold" font-style="italic" textLength="255.33" lengthAdjust="spacingAndGlyphs">BnaA08g11140D</text>
<line x1="1131.9" y1="1370.0" x2="1131.9" y2="1840.6" stroke="#000" stroke-width="2.6"/>
<line x1="1119.5" y1="1371.3" x2="1131.9" y2="1371.3" stroke="#000" stroke-width="2.6"/>
<text x="1073.93" y="1382.40" font-size="30.5" textLength="35.21" lengthAdjust="spacingAndGlyphs">15</text>
<line x1="1119.5" y1="1528.0" x2="1131.9" y2="1528.0" stroke="#000" stroke-width="2.6"/>
<text x="1073.93" y="1539.10" font-size="30.5" textLength="35.21" lengthAdjust="spacingAndGlyphs">10</text>
<line x1="1119.5" y1="1683.7" x2="1131.9" y2="1683.7" stroke="#000" stroke-width="2.6"/>
<text x="1090.99" y="1694.80" font-size="30.5" textLength="18.15" lengthAdjust="spacingAndGlyphs">5</text>
<line x1="1119.5" y1="1839.4" x2="1131.9" y2="1839.4" stroke="#000" stroke-width="2.6"/>
<text x="1090.99" y="1850.50" font-size="30.5" textLength="18.15" lengthAdjust="spacingAndGlyphs">0</text>
<text transform="translate(1064.40 1818.41) rotate(-90)" font-size="39" textLength="415.60" lengthAdjust="spacingAndGlyphs">Relative expression level</text>
<text x="1247.5" y="1378.9" font-size="27" fill="#c0141e" textLength="168" lengthAdjust="spacingAndGlyphs"><tspan font-style="italic">P</tspan> = 3.09×10<tspan font-size="18.5" dy="-11">-5</tspan></text>
<polyline points="1241.4,1414.4 1241.4,1400.5 1427.1,1400.5 1427.1,1414.4" fill="none" stroke="#000" stroke-width="2.6"/>
<polyline points="1238.8,1904 1238.8,1889.6 1425.2,1889.6 1425.2,1904" fill="none" stroke="#000" stroke-width="2.6"/>
<line x1="1238.8" y1="1495.8" x2="1238.8" y2="1550.2" stroke="#000" stroke-width="3" stroke-dasharray="11.5 13.3"/>
<line x1="1238.8" y1="1697.6" x2="1238.8" y2="1655.2" stroke="#000" stroke-width="3" stroke-dasharray="11.5 13.3"/>
<line x1="1202.4" y1="1495.8" x2="1277.5" y2="1495.8" stroke="#000" stroke-width="2.6"/>
<line x1="1202.4" y1="1697.6" x2="1277.5" y2="1697.6" stroke="#000" stroke-width="2.6"/>
<rect x="1166.4" y="1550.2" width="147.4" height="105.0" fill="#00bcf6" stroke="#000" stroke-width="3"/>
<line x1="1167.6" y1="1624.5" x2="1312.6" y2="1624.5" stroke="#000" stroke-width="8"/>
<circle cx="1223.8" cy="1498.8" r="5.2" fill="none" stroke="#000" stroke-width="2.9"/>
<circle cx="1243.7" cy="1495.8" r="5.2" fill="none" stroke="#000" stroke-width="2.9"/>
<circle cx="1250.0" cy="1550.6" r="5.2" fill="none" stroke="#000" stroke-width="2.9"/>
<circle cx="1240.0" cy="1605.0" r="5.2" fill="none" stroke="#000" stroke-width="2.9"/>
<circle cx="1241.8" cy="1643.2" r="5.2" fill="none" stroke="#000" stroke-width="2.9"/>
<circle cx="1238.0" cy="1655.6" r="5.2" fill="none" stroke="#000" stroke-width="2.9"/>
<circle cx="1237.0" cy="1698.7" r="5.2" fill="none" stroke="#000" stroke-width="2.9"/>
<circle cx="1232.0" cy="1824.4" r="5.2" fill="none" stroke="#000" stroke-width="2.9"/>
<line x1="1387.0" y1="1839.4" x2="1462.0" y2="1839.4" stroke="#000" stroke-width="2.6"/>
<rect x="1349.5" y="1825.1" width="150.0" height="10.5" fill="#000" stroke="#000" stroke-width="2.6"/>
<line x1="1352.0" y1="1827.2" x2="1497.0" y2="1827.2" stroke="#8a6a40" stroke-width="1.2"/>
<circle cx="1420.0" cy="1753.9" r="5.2" fill="none" stroke="#000" stroke-width="2.9"/>
<circle cx="1435.7" cy="1808.3" r="5.2" fill="none" stroke="#000" stroke-width="2.9"/>
<circle cx="1422.6" cy="1824.4" r="5.2" fill="none" stroke="#000" stroke-width="2.9"/>
<circle cx="1414.0" cy="1839.0" r="5.2" fill="none" stroke="#000" stroke-width="2.9"/>
<circle cx="1428.2" cy="1840.0" r="5.2" fill="none" stroke="#000" stroke-width="2.9"/>
<circle cx="1445.0" cy="1838.0" r="5.2" fill="none" stroke="#000" stroke-width="2.9"/>
<text x="1216.42" y="1943.70" font-size="32.5" textLength="68.81" lengthAdjust="spacingAndGlyphs">High</text>
<text x="1404.59" y="1943.70" font-size="32.5" textLength="59.90" lengthAdjust="spacingAndGlyphs">Low</text>
<text x="1210.86" y="1980.00" font-size="28.5" textLength="79.55" lengthAdjust="spacingAndGlyphs">(n = 8)</text>
<text x="1401.45" y="1980.00" font-size="28.5" textLength="80.39" lengthAdjust="spacingAndGlyphs">(n = 8)</text>
<text x="1717.48" y="1342.90" font-size="31" font-style="italic" textLength="253.29" lengthAdjust="spacingAndGlyphs">BnaA08g11140D</text>
<line x1="1664.3" y1="1367.6" x2="1664.3" y2="1806.3" stroke="#000" stroke-width="4.2"/>
<line x1="1655.7" y1="1369.4" x2="1664.3" y2="1369.4" stroke="#000" stroke-width="3.5"/>
<text x="1613.21" y="1378.00" font-size="23.5" textLength="33.25" lengthAdjust="spacingAndGlyphs">1.0</text>
<line x1="1655.7" y1="1456.4" x2="1664.3" y2="1456.4" stroke="#000" stroke-width="3.5"/>
<text x="1614.07" y="1465.02" font-size="23.5" textLength="32.37" lengthAdjust="spacingAndGlyphs">0.8</text>
<line x1="1655.7" y1="1543.4" x2="1664.3" y2="1543.4" stroke="#000" stroke-width="3.5"/>
<text x="1614.07" y="1552.04" font-size="23.5" textLength="32.49" lengthAdjust="spacingAndGlyphs">0.6</text>
<line x1="1655.7" y1="1630.5" x2="1664.3" y2="1630.5" stroke="#000" stroke-width="3.5"/>
<text x="1614.08" y="1639.06" font-size="23.5" textLength="32.12" lengthAdjust="spacingAndGlyphs">0.4</text>
<line x1="1655.7" y1="1717.5" x2="1664.3" y2="1717.5" stroke="#000" stroke-width="3.5"/>
<text x="1614.06" y="1726.08" font-size="23.5" textLength="32.62" lengthAdjust="spacingAndGlyphs">0.2</text>
<line x1="1655.7" y1="1804.5" x2="1664.3" y2="1804.5" stroke="#000" stroke-width="3.5"/>
<text x="1614.07" y="1813.10" font-size="23.5" textLength="32.37" lengthAdjust="spacingAndGlyphs">0.0</text>
<text transform="translate(1594.60 1645.77) rotate(-90)" font-size="26" textLength="128.40" lengthAdjust="spacingAndGlyphs">Frequency</text>
<line x1="1664.0" y1="1804.5" x2="2003.4" y2="1804.5" stroke="#000" stroke-width="3.5"/>
<rect x="1674.9" y="1369.4" width="34.6" height="158.4" fill="#92d050" stroke="#000" stroke-width="3.8"/>
<rect x="1674.9" y="1527.8" width="34.6" height="162.3" fill="#ed7d31" stroke="#000" stroke-width="3.8"/>
<rect x="1674.9" y="1690.1" width="34.6" height="114.4" fill="#5b9bd5" stroke="#000" stroke-width="3.8"/>
<rect x="1715.4" y="1369.4" width="35.4" height="94.0" fill="#92d050" stroke="#000" stroke-width="3.8"/>
<rect x="1715.4" y="1463.4" width="35.4" height="187.5" fill="#ed7d31" stroke="#000" stroke-width="3.8"/>
<rect x="1715.4" y="1650.9" width="35.4" height="153.6" fill="#5b9bd5" stroke="#000" stroke-width="3.8"/>
<rect x="1757.5" y="1369.4" width="34.6" height="94.9" fill="#92d050" stroke="#000" stroke-width="3.8"/>
<rect x="1757.5" y="1464.3" width="34.6" height="114.0" fill="#ed7d31" stroke="#000" stroke-width="3.8"/>
<rect x="1757.5" y="1578.2" width="34.6" height="226.3" fill="#5b9bd5" stroke="#000" stroke-width="3.8"/>
<rect x="1798.7" y="1369.4" width="34.6" height="168.8" fill="#92d050" stroke="#000" stroke-width="3.8"/>
<rect x="1798.7" y="1538.2" width="34.6" height="164.0" fill="#ed7d31" stroke="#000" stroke-width="3.8"/>
<rect x="1798.7" y="1702.3" width="34.6" height="102.2" fill="#5b9bd5" stroke="#000" stroke-width="3.8"/>
<rect x="1840.0" y="1369.4" width="34.6" height="124.9" fill="#92d050" stroke="#000" stroke-width="3.8"/>
<rect x="1840.0" y="1494.3" width="34.6" height="161.4" fill="#ed7d31" stroke="#000" stroke-width="3.8"/>
<rect x="1840.0" y="1655.7" width="34.6" height="148.8" fill="#5b9bd5" stroke="#000" stroke-width="3.8"/>
<rect x="1882.0" y="1369.4" width="34.6" height="131.4" fill="#92d050" stroke="#000" stroke-width="3.8"/>
<rect x="1882.0" y="1500.8" width="34.6" height="161.4" fill="#ed7d31" stroke="#000" stroke-width="3.8"/>
<rect x="1882.0" y="1662.2" width="34.6" height="142.3" fill="#5b9bd5" stroke="#000" stroke-width="3.8"/>
<rect x="1923.2" y="1369.4" width="34.7" height="97.0" fill="#92d050" stroke="#000" stroke-width="3.8"/>
<rect x="1923.2" y="1466.4" width="34.7" height="111.4" fill="#ed7d31" stroke="#000" stroke-width="3.8"/>
<rect x="1923.2" y="1577.8" width="34.7" height="226.7" fill="#5b9bd5" stroke="#000" stroke-width="3.8"/>
<rect x="1964.9" y="1369.4" width="36.5" height="12.6" fill="#92d050" stroke="#000" stroke-width="3.8"/>
<rect x="1964.9" y="1382.0" width="36.5" height="37.4" fill="#ed7d31" stroke="#000" stroke-width="3.8"/>
<rect x="1964.9" y="1419.4" width="36.5" height="385.1" fill="#5b9bd5" stroke="#000" stroke-width="3.8"/>
<text transform="translate(1698.90 1887.12) rotate(-90)" font-size="25.5" textLength="71.60" lengthAdjust="spacingAndGlyphs">Winter</text>
<text transform="translate(1742.60 1885.41) rotate(-90)" font-size="25.5" textLength="71.02" lengthAdjust="spacingAndGlyphs">Spring</text>
<text transform="translate(1783.60 1953.04) rotate(-90)" font-size="25.5" textLength="137.55" lengthAdjust="spacingAndGlyphs">Semi Winter</text>
<text transform="translate(1826.00 1961.79) rotate(-90)" font-size="25.5" textLength="146.62" lengthAdjust="spacingAndGlyphs">EU1950&amp;70s</text>
<text transform="translate(1867.00 1961.79) rotate(-90)" font-size="25.5" textLength="146.62" lengthAdjust="spacingAndGlyphs">EU1980&amp;90s</text>
<text transform="translate(1910.60 1961.03) rotate(-90)" font-size="25.5" textLength="145.85" lengthAdjust="spacingAndGlyphs">CN1950&amp;70s</text>
<text transform="translate(1951.60 1961.03) rotate(-90)" font-size="25.5" textLength="145.85" lengthAdjust="spacingAndGlyphs">CN1980&amp;90s</text>
<text transform="translate(1995.30 1961.03) rotate(-90)" font-size="25.5" textLength="145.85" lengthAdjust="spacingAndGlyphs">CN2000&amp;10s</text>
</svg>
</body></html>
